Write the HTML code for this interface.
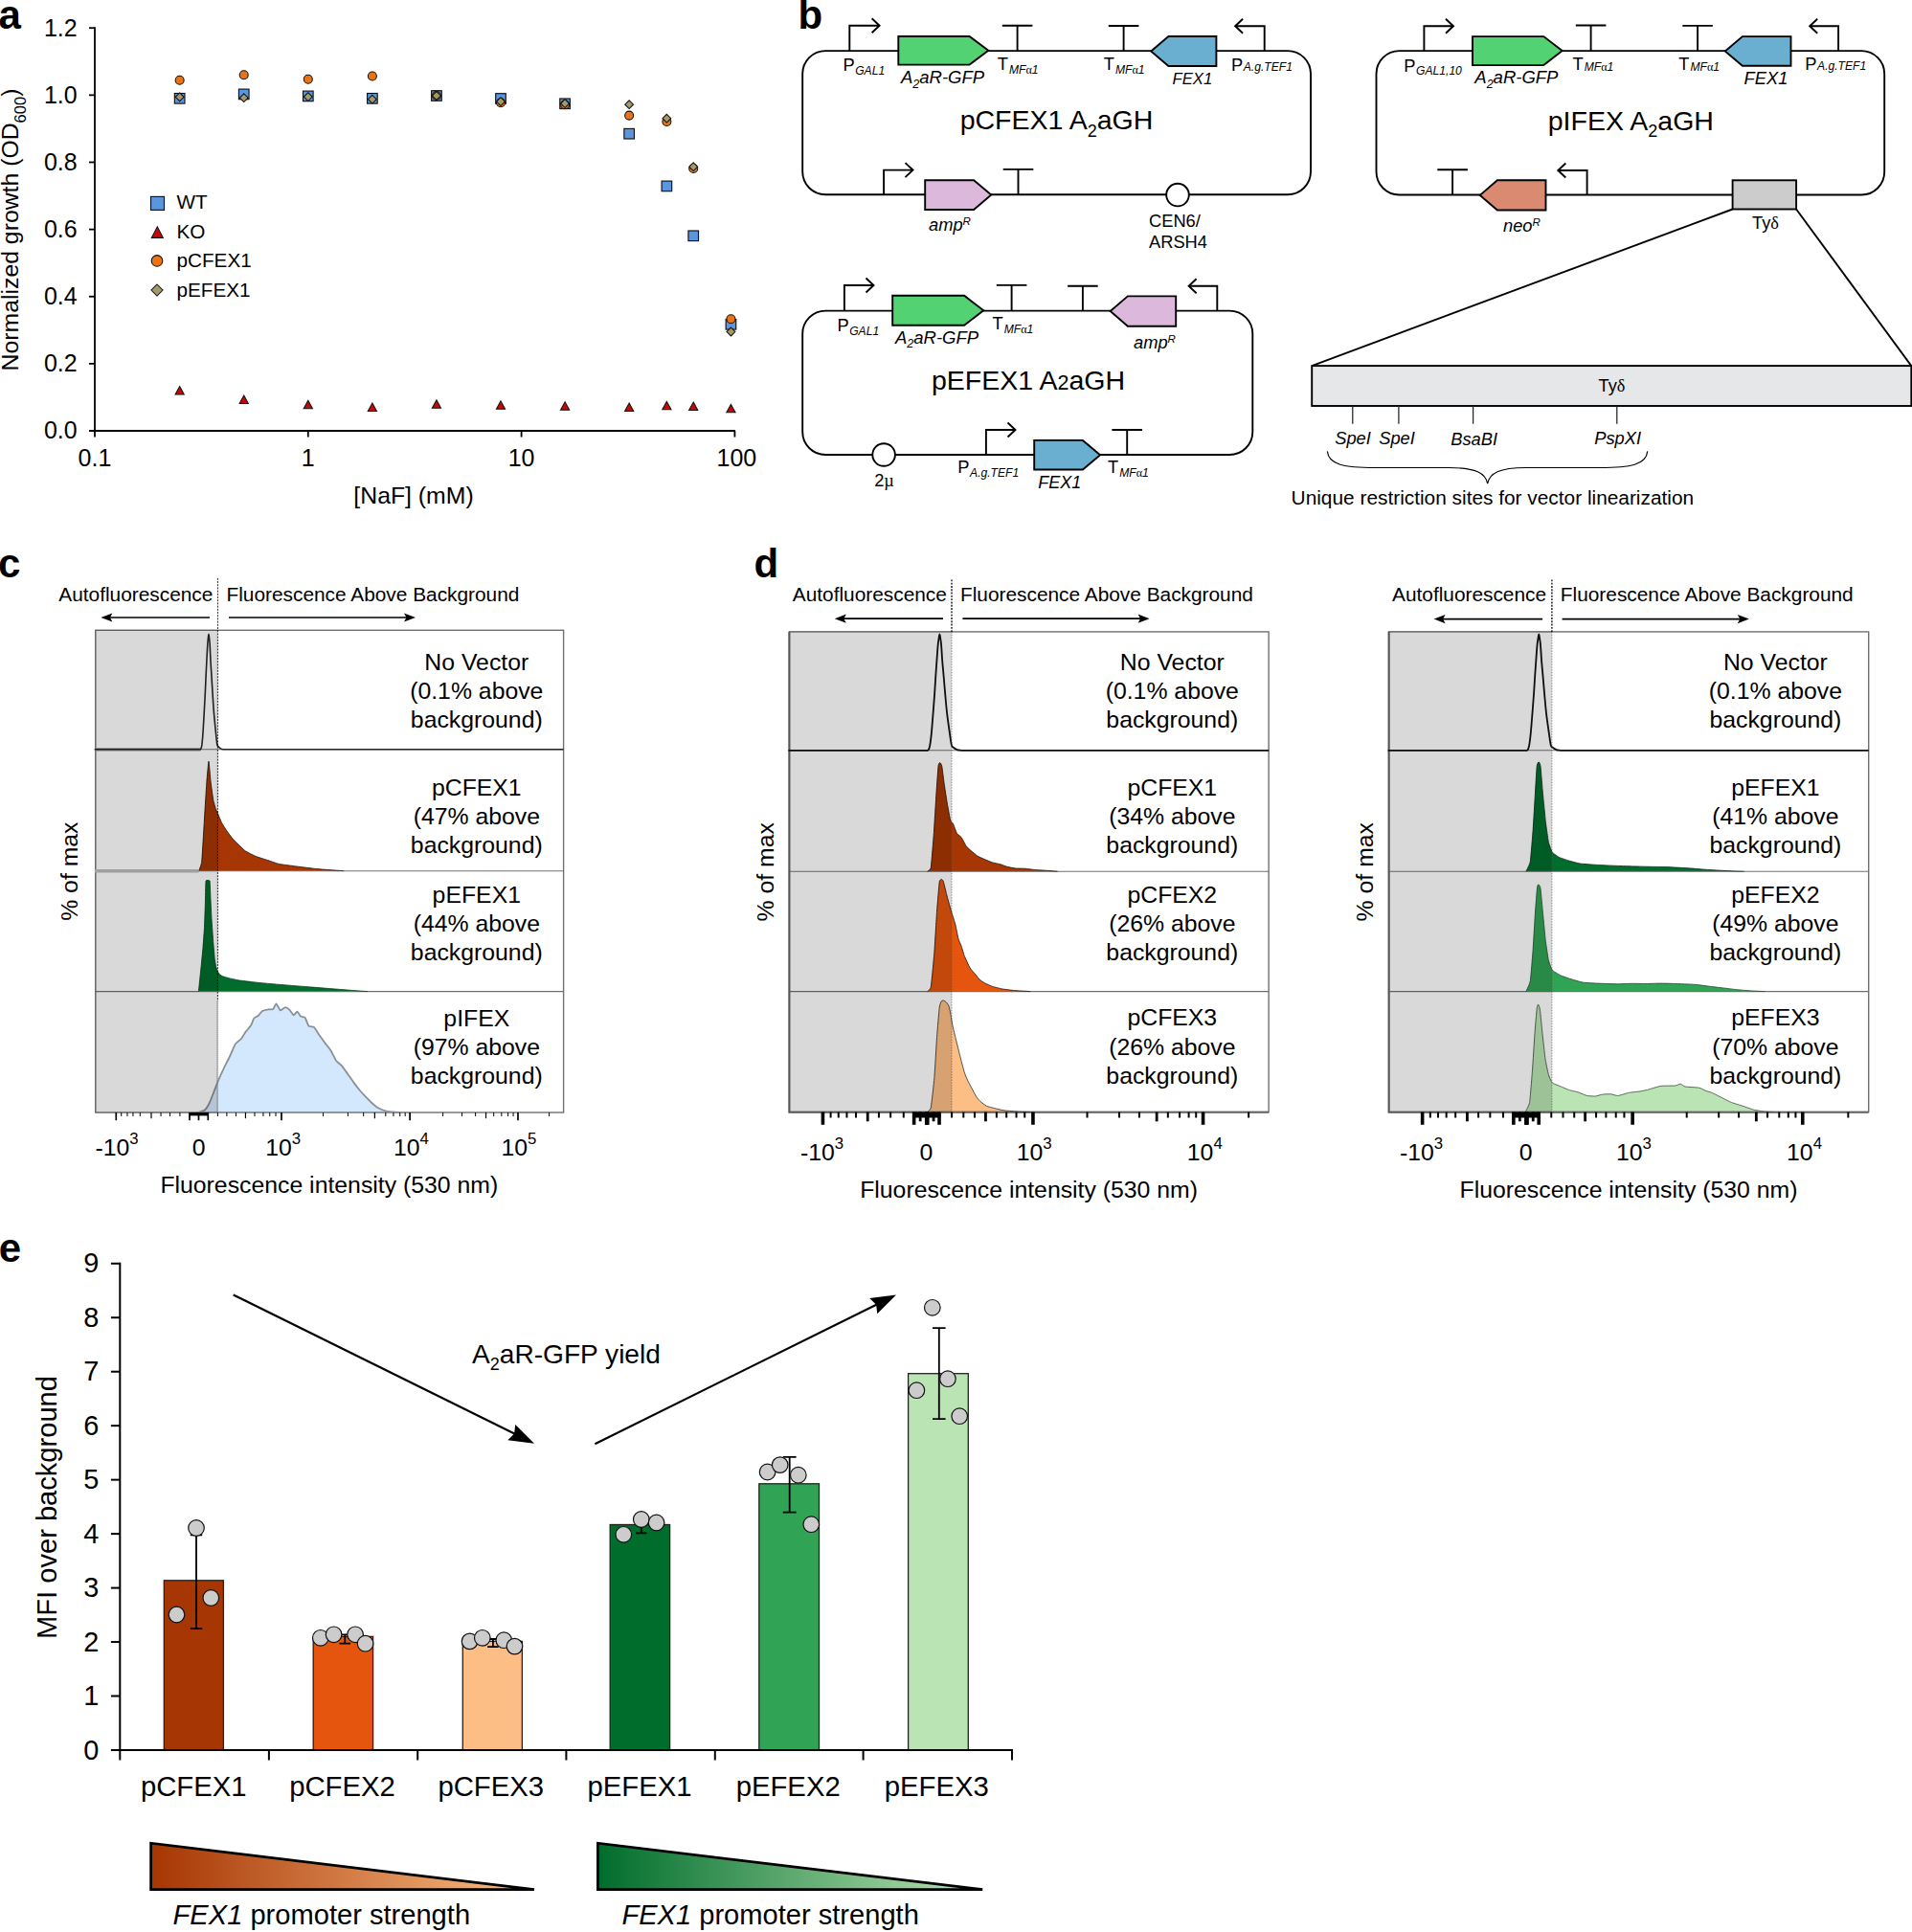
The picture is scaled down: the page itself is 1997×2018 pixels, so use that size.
<!DOCTYPE html>
<html lang="en"><head><meta charset="utf-8"><title>Figure</title>
<style>
html,body{margin:0;padding:0;background:#fff;}
body{width:1997px;height:2018px;overflow:hidden;}
svg{display:block;}
text{font-family:"Liberation Sans",sans-serif;fill:#000;}
.it{font-style:italic;}
.b{font-weight:bold;}
.sy{font-family:"Liberation Serif","DejaVu Serif",serif;font-style:normal;}
</style></head><body>
<svg width="1997" height="2018" viewBox="0 0 1997 2018">
<rect x="0" y="0" width="1997" height="2018" fill="#fff"/>
<g id="panel-a">
<text x="-1.6" y="30" font-size="42" text-anchor="start" class="b">a</text>
<line x1="99" y1="28.3" x2="99" y2="456.5" stroke="#000" stroke-width="1.8"/>
<line x1="93" y1="450" x2="767.9" y2="450" stroke="#000" stroke-width="1.8"/>
<text x="80.7" y="458.3" font-size="25" text-anchor="end">0.0</text>
<line x1="93" y1="379.87" x2="99" y2="379.87" stroke="#000" stroke-width="1.8"/>
<text x="80.7" y="388.17" font-size="25" text-anchor="end">0.2</text>
<line x1="93" y1="309.74" x2="99" y2="309.74" stroke="#000" stroke-width="1.8"/>
<text x="80.7" y="318.04" font-size="25" text-anchor="end">0.4</text>
<line x1="93" y1="239.61" x2="99" y2="239.61" stroke="#000" stroke-width="1.8"/>
<text x="80.7" y="247.91" font-size="25" text-anchor="end">0.6</text>
<line x1="93" y1="169.48" x2="99" y2="169.48" stroke="#000" stroke-width="1.8"/>
<text x="80.7" y="177.78" font-size="25" text-anchor="end">0.8</text>
<line x1="93" y1="99.35" x2="99" y2="99.35" stroke="#000" stroke-width="1.8"/>
<text x="80.7" y="107.65" font-size="25" text-anchor="end">1.0</text>
<line x1="93" y1="29.22" x2="99" y2="29.22" stroke="#000" stroke-width="1.8"/>
<text x="80.7" y="37.52" font-size="25" text-anchor="end">1.2</text>
<text x="99" y="487.3" font-size="25" text-anchor="middle">0.1</text>
<line x1="321.8" y1="450" x2="321.8" y2="456.5" stroke="#000" stroke-width="1.8"/>
<text x="321.8" y="487.3" font-size="25" text-anchor="middle">1</text>
<line x1="544.6" y1="450" x2="544.6" y2="456.5" stroke="#000" stroke-width="1.8"/>
<text x="544.6" y="487.3" font-size="25" text-anchor="middle">10</text>
<line x1="767.4" y1="450" x2="767.4" y2="456.5" stroke="#000" stroke-width="1.8"/>
<text x="769.4" y="487.3" font-size="25" text-anchor="middle">100</text>
<text x="432" y="526" font-size="24.8" text-anchor="middle">[NaF] (mM)</text>
<text x="18.5" y="240" font-size="24.8" text-anchor="middle" transform="rotate(-90 18.5 240)">Normalized growth (OD<tspan font-size="16.5" dy="8">600</tspan><tspan dy="-8">)</tspan></text>
<rect x="182.36" y="97.5" width="10.6" height="10.6" fill="#5b95dc" stroke="#111" stroke-width="1.15"/>
<rect x="249.43" y="93.1" width="10.6" height="10.6" fill="#5b95dc" stroke="#111" stroke-width="1.15"/>
<rect x="316.5" y="95.1" width="10.6" height="10.6" fill="#5b95dc" stroke="#111" stroke-width="1.15"/>
<rect x="383.57" y="97.5" width="10.6" height="10.6" fill="#5b95dc" stroke="#111" stroke-width="1.15"/>
<rect x="450.64" y="94.7" width="10.6" height="10.6" fill="#5b95dc" stroke="#111" stroke-width="1.15"/>
<rect x="517.71" y="97.7" width="10.6" height="10.6" fill="#5b95dc" stroke="#111" stroke-width="1.15"/>
<rect x="584.78" y="103" width="10.6" height="10.6" fill="#5b95dc" stroke="#111" stroke-width="1.15"/>
<rect x="651.85" y="134.4" width="10.6" height="10.6" fill="#5b95dc" stroke="#111" stroke-width="1.15"/>
<rect x="691.08" y="189.1" width="10.6" height="10.6" fill="#5b95dc" stroke="#111" stroke-width="1.15"/>
<rect x="718.92" y="241" width="10.6" height="10.6" fill="#5b95dc" stroke="#111" stroke-width="1.15"/>
<rect x="758.15" y="333.5" width="10.6" height="10.6" fill="#5b95dc" stroke="#111" stroke-width="1.15"/>
<polygon points="187.66,403.6 192.26,412 183.06,412" fill="#c40808" stroke="#111" stroke-width="1.05"/>
<polygon points="254.73,413 259.33,421.4 250.13,421.4" fill="#c40808" stroke="#111" stroke-width="1.05"/>
<polygon points="321.8,418.3 326.4,426.7 317.2,426.7" fill="#c40808" stroke="#111" stroke-width="1.05"/>
<polygon points="388.87,421.1 393.47,429.5 384.27,429.5" fill="#c40808" stroke="#111" stroke-width="1.05"/>
<polygon points="455.94,417.8 460.54,426.2 451.34,426.2" fill="#c40808" stroke="#111" stroke-width="1.05"/>
<polygon points="523.01,418.9 527.61,427.3 518.41,427.3" fill="#c40808" stroke="#111" stroke-width="1.05"/>
<polygon points="590.08,419.8 594.68,428.2 585.48,428.2" fill="#c40808" stroke="#111" stroke-width="1.05"/>
<polygon points="657.15,421.1 661.75,429.5 652.55,429.5" fill="#c40808" stroke="#111" stroke-width="1.05"/>
<polygon points="696.38,419.4 700.98,427.8 691.78,427.8" fill="#c40808" stroke="#111" stroke-width="1.05"/>
<polygon points="724.22,420 728.82,428.4 719.62,428.4" fill="#c40808" stroke="#111" stroke-width="1.05"/>
<polygon points="763.45,422.4 768.05,430.8 758.85,430.8" fill="#c40808" stroke="#111" stroke-width="1.05"/>
<circle cx="187.66" cy="83.7" r="4.5" fill="#ea7317" stroke="#111" stroke-width="1.05"/>
<circle cx="254.73" cy="78.2" r="4.5" fill="#ea7317" stroke="#111" stroke-width="1.05"/>
<circle cx="321.8" cy="82.8" r="4.5" fill="#ea7317" stroke="#111" stroke-width="1.05"/>
<circle cx="388.87" cy="79.5" r="4.5" fill="#ea7317" stroke="#111" stroke-width="1.05"/>
<circle cx="455.94" cy="100" r="4.5" fill="#ea7317" stroke="#111" stroke-width="1.05"/>
<circle cx="523.01" cy="107.2" r="4.5" fill="#ea7317" stroke="#111" stroke-width="1.05"/>
<circle cx="590.08" cy="109.2" r="4.5" fill="#ea7317" stroke="#111" stroke-width="1.05"/>
<circle cx="657.15" cy="120.6" r="4.5" fill="#ea7317" stroke="#111" stroke-width="1.05"/>
<circle cx="696.38" cy="127" r="4.5" fill="#ea7317" stroke="#111" stroke-width="1.05"/>
<circle cx="724.22" cy="176" r="4.5" fill="#ea7317" stroke="#111" stroke-width="1.05"/>
<circle cx="763.45" cy="333.3" r="4.5" fill="#ea7317" stroke="#111" stroke-width="1.05"/>
<polygon points="187.66,96.9 192.06,101.3 187.66,105.7 183.26,101.3" fill="#a39a6b" stroke="#111" stroke-width="1.05"/>
<polygon points="254.73,97.8 259.13,102.2 254.73,106.6 250.33,102.2" fill="#a39a6b" stroke="#111" stroke-width="1.05"/>
<polygon points="321.8,96.7 326.2,101.1 321.8,105.5 317.4,101.1" fill="#a39a6b" stroke="#111" stroke-width="1.05"/>
<polygon points="388.87,99.3 393.27,103.7 388.87,108.1 384.47,103.7" fill="#a39a6b" stroke="#111" stroke-width="1.05"/>
<polygon points="455.94,95.6 460.34,100 455.94,104.4 451.54,100" fill="#a39a6b" stroke="#111" stroke-width="1.05"/>
<polygon points="523.01,101.7 527.41,106.1 523.01,110.5 518.61,106.1" fill="#a39a6b" stroke="#111" stroke-width="1.05"/>
<polygon points="590.08,103.7 594.48,108.1 590.08,112.5 585.68,108.1" fill="#a39a6b" stroke="#111" stroke-width="1.05"/>
<polygon points="657.15,104.8 661.55,109.2 657.15,113.6 652.75,109.2" fill="#a39a6b" stroke="#111" stroke-width="1.05"/>
<polygon points="696.38,119.3 700.78,123.7 696.38,128.1 691.98,123.7" fill="#a39a6b" stroke="#111" stroke-width="1.05"/>
<polygon points="724.22,169.8 728.62,174.2 724.22,178.6 719.82,174.2" fill="#a39a6b" stroke="#111" stroke-width="1.05"/>
<polygon points="763.45,342.1 767.85,346.5 763.45,350.9 759.05,346.5" fill="#a39a6b" stroke="#111" stroke-width="1.05"/>
<rect x="157.5" y="205.4" width="14" height="14" fill="#5b95dc" stroke="#111" stroke-width="1.15"/>
<polygon points="164.3,236.85 170.3,248.35 158.3,248.35" fill="#c40808" stroke="#111" stroke-width="1.05"/>
<circle cx="164" cy="272.4" r="5.8" fill="#ea7317" stroke="#111" stroke-width="1.05"/>
<polygon points="164,297 170,303 164,309 158,303" fill="#a39a6b" stroke="#111" stroke-width="1.05"/>
<text x="184.5" y="218.3" font-size="20.7" text-anchor="start">WT</text>
<text x="184.5" y="248.7" font-size="20.7" text-anchor="start">KO</text>
<text x="184.5" y="279.1" font-size="20.7" text-anchor="start">pCFEX1</text>
<text x="184.5" y="309.5" font-size="20.7" text-anchor="start">pEFEX1</text>
</g>
<g id="panel-b">
<text x="833.6" y="30.4" font-size="42" text-anchor="start" class="b">b</text>
<rect x="838.2" y="53.1" width="530.8" height="150.2" rx="24" ry="24" fill="none" stroke="#000" stroke-width="1.9"/>
<path d="M887.3 53.1 V26.8 H918.6 M910.6 19.3 L918.6 26.8 L910.6 34.3" fill="none" stroke="#000" stroke-width="1.9" stroke-linejoin="miter"/>
<polygon points="938.3,38 1012.6,38 1032.3,52.8 1012.6,67.6 938.3,67.6" fill="#52d273" stroke="#000" stroke-width="1.9" stroke-linejoin="miter"/>
<path d="M1062.6 53.1 V26.7 M1046.8 26.7 H1078.4" fill="none" stroke="#000" stroke-width="1.9"/>
<path d="M1173.6 53.1 V27 M1157.8 27 H1189.4" fill="none" stroke="#000" stroke-width="1.9"/>
<polygon points="1270.4,38 1220.4,38 1202.2,53.5 1220.4,69 1270.4,69" fill="#6aaed0" stroke="#000" stroke-width="1.9" stroke-linejoin="miter"/>
<path d="M1320.7 53.1 V27.2 H1290.1 M1298.1 19.7 L1290.1 27.2 L1298.1 34.7" fill="none" stroke="#000" stroke-width="1.9" stroke-linejoin="miter"/>
<text x="880.4" y="74.4" font-size="18.3" text-anchor="start">P<tspan class="it" font-size="12.1" dx="0.6" dy="3.8">GAL1</tspan></text>
<text x="941" y="87.3" font-size="18.5" text-anchor="start" class="it">A<tspan font-size="12.5" dy="4.5">2</tspan><tspan dy="-4.5">aR-GFP</tspan></text>
<text x="1041.8" y="73" font-size="18.3" text-anchor="start">T<tspan class="it" font-size="12.1" dx="1" dy="3.5">MF</tspan><tspan class="sy" font-size="12.1" font-style="italic">α</tspan><tspan class="it" font-size="12.1">1</tspan></text>
<text x="1152.8" y="73" font-size="18.3" text-anchor="start">T<tspan class="it" font-size="12.1" dx="1" dy="3.5">MF</tspan><tspan class="sy" font-size="12.1" font-style="italic">α</tspan><tspan class="it" font-size="12.1">1</tspan></text>
<text x="1224.5" y="88" font-size="16.7" text-anchor="start" class="it">FEX1</text>
<text x="1286" y="73.7" font-size="18.3" text-anchor="start">P<tspan class="it" font-size="12.1" dx="0.6" dy="0">A.g.TEF1</tspan></text>
<text x="1103.5" y="135" font-size="28.5" text-anchor="middle">pCFEX1 A<tspan font-size="18" dy="7.5">2</tspan><tspan dy="-7.5">aGH</tspan></text>
<path d="M923.1 203.3 V177.6 H953.5 M945.5 170.1 L953.5 177.6 L945.5 185.1" fill="none" stroke="#000" stroke-width="1.9" stroke-linejoin="miter"/>
<polygon points="966.2,188.2 1017.1,188.2 1035.3,203.6 1017.1,219 966.2,219" fill="#dcb8dc" stroke="#000" stroke-width="1.9" stroke-linejoin="miter"/>
<path d="M1063.5 203.3 V176.9 M1047.7 176.9 H1079.3" fill="none" stroke="#000" stroke-width="1.9"/>
<circle cx="1230" cy="203.6" r="11.8" fill="#fff" stroke="#000" stroke-width="1.9"/>
<text x="970" y="241.1" font-size="18.3" text-anchor="start" class="it">amp<tspan font-size="11.5" dy="-6.5">R</tspan></text>
<text x="1200" y="236.6" font-size="18.3" text-anchor="start">CEN6/</text>
<text x="1200" y="259.3" font-size="18.3" text-anchor="start">ARSH4</text>
<rect x="1437.5" y="53.1" width="530.7" height="150.4" rx="24" ry="24" fill="none" stroke="#000" stroke-width="1.9"/>
<path d="M1487.4 53.1 V27.2 H1518 M1510 19.7 L1518 27.2 L1510 34.7" fill="none" stroke="#000" stroke-width="1.9" stroke-linejoin="miter"/>
<polygon points="1538,38.1 1612.3,38.1 1631.7,53.1 1612.3,68.1 1538,68.1" fill="#52d273" stroke="#000" stroke-width="1.9" stroke-linejoin="miter"/>
<path d="M1661.6 53.1 V26.5 M1645.8 26.5 H1677.4" fill="none" stroke="#000" stroke-width="1.9"/>
<path d="M1773.1 53.1 V26.9 M1757.3 26.9 H1788.9" fill="none" stroke="#000" stroke-width="1.9"/>
<polygon points="1870.5,38.1 1819.9,38.1 1801.8,53.4 1819.9,68.7 1870.5,68.7" fill="#6aaed0" stroke="#000" stroke-width="1.9" stroke-linejoin="miter"/>
<path d="M1920.1 53.1 V27.2 H1890.2 M1898.2 19.7 L1890.2 27.2 L1898.2 34.7" fill="none" stroke="#000" stroke-width="1.9" stroke-linejoin="miter"/>
<text x="1466.3" y="74.9" font-size="18.3" text-anchor="start">P<tspan class="it" font-size="12.1" dx="0.6" dy="3.5">GAL1,10</tspan></text>
<text x="1540.3" y="87.4" font-size="18.5" text-anchor="start" class="it">A<tspan font-size="12.5" dy="4.5">2</tspan><tspan dy="-4.5">aR-GFP</tspan></text>
<text x="1642.5" y="73.4" font-size="18.3" text-anchor="start">T<tspan class="it" font-size="12.1" dx="1" dy="0.5">MF</tspan><tspan class="sy" font-size="12.1" font-style="italic">α</tspan><tspan class="it" font-size="12.1">1</tspan></text>
<text x="1753.3" y="73.4" font-size="18.3" text-anchor="start">T<tspan class="it" font-size="12.1" dx="1" dy="0.5">MF</tspan><tspan class="sy" font-size="12.1" font-style="italic">α</tspan><tspan class="it" font-size="12.1">1</tspan></text>
<text x="1821.6" y="88" font-size="18.3" text-anchor="start" class="it">FEX1</text>
<text x="1885.3" y="73.4" font-size="18.3" text-anchor="start">P<tspan class="it" font-size="12.1" dx="0.6" dy="0">A.g.TEF1</tspan></text>
<text x="1703.3" y="135.8" font-size="28.5" text-anchor="middle">pIFEX A<tspan font-size="18" dy="7.5">2</tspan><tspan dy="-7.5">aGH</tspan></text>
<path d="M1517.1 203.5 V177.3 M1501.3 177.3 H1532.9" fill="none" stroke="#000" stroke-width="1.9"/>
<polygon points="1614.5,188.3 1563.9,188.3 1545.8,203.9 1563.9,219.5 1614.5,219.5" fill="#db8a72" stroke="#000" stroke-width="1.9" stroke-linejoin="miter"/>
<path d="M1657.6 203.5 V178 H1627.3 M1635.3 170.5 L1627.3 178 L1635.3 185.5" fill="none" stroke="#000" stroke-width="1.9" stroke-linejoin="miter"/>
<rect x="1809.6" y="188.3" width="66.5" height="30.2" fill="#cccccc" stroke="#000" stroke-width="1.9"/>
<text x="1570" y="242" font-size="18.3" text-anchor="start" class="it">neo<tspan font-size="11.5" dy="-6.5">R</tspan></text>
<text x="1844" y="238.8" font-size="18.3" text-anchor="middle">Ty<tspan class="sy">δ</tspan></text>
<line x1="1809.6" y1="218.5" x2="1370.2" y2="382.1" stroke="#000" stroke-width="1.9"/>
<line x1="1876.1" y1="218.5" x2="1996.3" y2="382.1" stroke="#000" stroke-width="1.9"/>
<rect x="1370.2" y="382.1" width="626.1" height="41.9" fill="#e6e7e8" stroke="#000" stroke-width="1.9"/>
<text x="1683.5" y="408.9" font-size="18.3" text-anchor="middle">Ty<tspan class="sy">δ</tspan></text>
<line x1="1412.8" y1="424" x2="1412.8" y2="442.8" stroke="#222" stroke-width="1.25"/>
<line x1="1460.9" y1="424" x2="1460.9" y2="442.8" stroke="#222" stroke-width="1.25"/>
<line x1="1538.6" y1="424" x2="1538.6" y2="442.8" stroke="#222" stroke-width="1.25"/>
<line x1="1688.8" y1="424" x2="1688.8" y2="442.8" stroke="#222" stroke-width="1.25"/>
<text x="1413" y="463.9" font-size="18.3" text-anchor="middle" class="it">SpeI</text>
<text x="1459" y="463.9" font-size="18.3" text-anchor="middle" class="it">SpeI</text>
<text x="1539.6" y="465.3" font-size="18.3" text-anchor="middle" class="it">BsaBI</text>
<text x="1689.6" y="463.9" font-size="18.3" text-anchor="middle" class="it">PspXI</text>
<path d="M1386.4 471.4 C1387.4 485.5 1404.4 488.5 1436.4 488.5 L1513.7 488.5 C1541.7 488.5 1551.7 494.5 1553.7 505.1 C1555.7 494.5 1565.7 488.5 1593.7 488.5 L1670.7 488.5 C1702.7 488.5 1719.7 485.5 1720.7 471.4" fill="none" stroke="#000" stroke-width="1.1"/>
<text x="1348.6" y="527.3" font-size="20.85" text-anchor="start">Unique restriction sites for vector linearization</text>
<rect x="838.2" y="324.6" width="470.1" height="150.4" rx="24" ry="24" fill="none" stroke="#000" stroke-width="1.9"/>
<path d="M881.9 324.6 V298 H912.5 M904.5 290.5 L912.5 298 L904.5 305.5" fill="none" stroke="#000" stroke-width="1.9" stroke-linejoin="miter"/>
<polygon points="932.2,308.8 1007.1,308.8 1027.2,324.3 1007.1,339.8 932.2,339.8" fill="#52d273" stroke="#000" stroke-width="1.9" stroke-linejoin="miter"/>
<path d="M1056.6 324.6 V297.9 M1040.8 297.9 H1072.4" fill="none" stroke="#000" stroke-width="1.9"/>
<path d="M1130.9 324.6 V298.8 M1115.1 298.8 H1146.7" fill="none" stroke="#000" stroke-width="1.9"/>
<polygon points="1228.2,309.4 1177.9,309.4 1159.7,325.05 1177.9,340.7 1228.2,340.7" fill="#dcb8dc" stroke="#000" stroke-width="1.9" stroke-linejoin="miter"/>
<path d="M1271.3 324.6 V298.8 H1241.6 M1249.6 291.3 L1241.6 298.8 L1249.6 306.3" fill="none" stroke="#000" stroke-width="1.9" stroke-linejoin="miter"/>
<text x="874.4" y="345.8" font-size="18.3" text-anchor="start">P<tspan class="it" font-size="12.1" dx="0.6" dy="4">GAL1</tspan></text>
<text x="935" y="358.9" font-size="18.5" text-anchor="start" class="it">A<tspan font-size="12.5" dy="4.5">2</tspan><tspan dy="-4.5">aR-GFP</tspan></text>
<text x="1036.5" y="344.3" font-size="18.3" text-anchor="start">T<tspan class="it" font-size="12.1" dx="1" dy="3.5">MF</tspan><tspan class="sy" font-size="12.1" font-style="italic">α</tspan><tspan class="it" font-size="12.1">1</tspan></text>
<text x="1184" y="364.2" font-size="18.3" text-anchor="start" class="it">amp<tspan font-size="11.5" dy="-6.5">R</tspan></text>
<text x="1074" y="407.1" font-size="28.5" text-anchor="middle">pEFEX1 A<tspan font-size="21.5">2</tspan>aGH</text>
<circle cx="923.1" cy="475" r="11.8" fill="#fff" stroke="#000" stroke-width="1.9"/>
<text x="923.5" y="508.1" font-size="18.3" text-anchor="middle">2<tspan class="sy">µ</tspan></text>
<path d="M1029.9 475 V449 H1060.5 M1052.5 441.5 L1060.5 449 L1052.5 456.5" fill="none" stroke="#000" stroke-width="1.9" stroke-linejoin="miter"/>
<polygon points="1080.2,459.9 1130.9,459.9 1149.1,475.2 1130.9,490.5 1080.2,490.5" fill="#6aaed0" stroke="#000" stroke-width="1.9" stroke-linejoin="miter"/>
<path d="M1177.2 475 V449 M1161.4 449 H1193" fill="none" stroke="#000" stroke-width="1.9"/>
<text x="1000.3" y="494" font-size="18.3" text-anchor="start">P<tspan class="it" font-size="12.1" dx="0.6" dy="4.4">A.g.TEF1</tspan></text>
<text x="1084.3" y="509.6" font-size="18" text-anchor="start" class="it">FEX1</text>
<text x="1157" y="494.4" font-size="18.3" text-anchor="start">T<tspan class="it" font-size="12.1" dx="1" dy="3.5">MF</tspan><tspan class="sy" font-size="12.1" font-style="italic">α</tspan><tspan class="it" font-size="12.1">1</tspan></text>
</g>
<g id="panel-c-label">
<text x="-2" y="603.3" font-size="42" text-anchor="start" class="b">c</text>
</g>
<g id="panel-c">
<rect x="99.8" y="658.3" width="488.8" height="503.7" fill="#fff"/>
<path d="M207.6 909.7 C207.81 909.07 210.32 903.62 210.7 900.2 C211.08 896.78 212.95 863.97 213.3 858.4 C213.65 852.83 215.59 820.81 215.9 816.6 C216.21 812.39 217.72 795.2 218 795.2 C218.28 795.2 219.79 813.92 220.1 816.6 C220.41 819.28 222.35 833.52 222.7 835.4 C223.05 837.28 224.99 843.86 225.3 844.8 C225.61 845.74 226.98 848.52 227.4 849.5 C227.82 850.48 230.97 858.28 231.6 859.5 C232.23 860.72 236.03 866.69 236.8 867.8 C237.57 868.91 242.26 875.22 243.1 876.2 C243.94 877.18 248.53 881.66 249.4 882.5 C250.27 883.34 255.01 888 256.2 888.8 C257.39 889.6 265.7 893.87 267.2 894.5 C268.7 895.13 277.1 897.67 278.7 898.2 C280.3 898.73 289.11 901.95 291.2 902.4 C293.29 902.85 307.45 904.65 310.1 905 C312.75 905.35 328.56 907.35 331 907.6 C333.44 907.85 344.82 908.66 346.7 908.8 C348.58 908.94 358.37 909.64 359.2 909.7 Z" fill="#a63603" stroke="none" stroke-width="0"/>
<path d="M207.4 1035.6 C207.51 1034.52 210.02 1010.44 210.2 1008.6 C210.38 1006.76 211.87 991.2 212 989.6 C212.13 988 213.4 970.44 213.5 968.6 C213.6 966.76 214.34 945.54 214.4 943.6 C214.46 941.66 214.81 921.04 215 920.1 C215.19 919.16 218.9 919.32 219.1 920.1 C219.3 920.88 219.92 938 220 939.6 C220.08 941.2 220.89 958.18 221 960 C221.11 961.82 222.67 983.35 222.8 985 C222.93 986.65 224.09 1000.22 224.2 1001.2 C224.31 1002.18 225.49 1009.08 225.6 1009.6 C225.71 1010.12 226.84 1013.87 227 1014.2 C227.16 1014.53 229.28 1017.58 229.5 1017.8 C229.72 1018.02 232.22 1019.64 232.6 1019.8 C232.98 1019.96 238.3 1021.53 239 1021.7 C239.7 1021.87 248.76 1023.81 250 1024 C251.24 1024.19 268.4 1026.23 270 1026.4 C271.6 1026.57 287.76 1028.01 290 1028.2 C292.24 1028.39 323.12 1030.87 326 1031.1 C328.88 1031.33 359.68 1033.82 362 1034 C364.32 1034.18 383.12 1035.54 384 1035.6 Z" fill="#006d2c" stroke="none" stroke-width="0"/>
<path d="M205 1162 C205.18 1161.99 206.85 1161.98 207.5 1161.8 C208.15 1161.62 212.97 1160.22 213.8 1159.5 C214.63 1158.78 218.07 1153.47 218.8 1152 C219.53 1150.53 223.11 1141.15 223.8 1139.4 C224.49 1137.65 227.46 1129.85 228.2 1128.1 C228.94 1126.35 233.02 1117.44 233.9 1115.6 C234.78 1113.76 239.33 1104.84 240.2 1103 C241.07 1101.16 244.93 1091.83 245.8 1090.5 C246.67 1089.17 251.32 1085.72 252.1 1084.8 C252.88 1083.88 255.77 1078.91 256.5 1077.9 C257.23 1076.89 261.45 1072.06 262.1 1071 C262.75 1069.94 264.74 1064.23 265.3 1063.5 C265.86 1062.77 269.06 1061.55 269.7 1061 C270.34 1060.45 273.22 1056.49 274 1056 C274.78 1055.51 279.47 1054.44 280.3 1054.3 C281.13 1054.16 284.7 1054.53 285.3 1054.1 C285.9 1053.67 287.94 1048.31 288.5 1048.4 C289.06 1048.49 292.21 1055.02 292.9 1055.3 C293.59 1055.58 297.21 1052.24 297.9 1052.2 C298.59 1052.16 301.65 1054.11 302.3 1054.7 C302.95 1055.29 306.11 1060.16 306.7 1060.3 C307.29 1060.44 309.85 1056.5 310.4 1056.6 C310.95 1056.7 313.6 1061.14 314.2 1061.6 C314.8 1062.06 318 1062.17 318.6 1062.9 C319.2 1063.63 321.71 1070.87 322.4 1071.6 C323.09 1072.33 327.22 1072.25 328 1072.9 C328.78 1073.55 332.17 1079.2 333 1080.4 C333.83 1081.6 338.38 1087.95 339.3 1089.2 C340.22 1090.45 344.73 1096.02 345.6 1097.4 C346.47 1098.78 350.37 1106.85 351.2 1108 C352.03 1109.15 356.02 1112.09 356.9 1113.1 C357.78 1114.11 362.28 1120.52 363.2 1121.8 C364.12 1123.08 368.48 1129.35 369.4 1130.6 C370.32 1131.85 374.78 1137.69 375.7 1138.8 C376.62 1139.91 381.08 1144.73 382 1145.7 C382.92 1146.67 387.38 1151.17 388.3 1152 C389.22 1152.83 393.4 1156.38 394.5 1157 C395.6 1157.62 401.91 1160.15 403.3 1160.5 C404.69 1160.85 412.2 1161.64 413.4 1161.75 C414.6 1161.86 419.15 1161.98 419.6 1162 Z" fill="#d3e8fc" stroke="none" stroke-width="0"/>
<line x1="99.8" y1="782.8" x2="588.6" y2="782.8" stroke="#707070" stroke-width="1.1"/>
<line x1="99.8" y1="909.7" x2="588.6" y2="909.7" stroke="#707070" stroke-width="1.1"/>
<line x1="99.8" y1="1035.6" x2="588.6" y2="1035.6" stroke="#707070" stroke-width="1.1"/>
<rect x="99.8" y="658.3" width="488.8" height="503.7" fill="none" stroke="#707070" stroke-width="1.4"/>
<line x1="98.8" y1="782.8" x2="209.39" y2="782.8" stroke="#969696" stroke-width="3.3"/>
<path d="M98.8 782.8 L208.89 782.8 L209.39 782.8 C209.52 782.56 209.89 782.32 210.16 781.35 C210.43 780.39 210.69 779.78 211 777.01 C211.31 774.24 211.7 769.78 212.05 764.71 C212.4 759.64 212.72 753.55 213.1 746.62 C213.48 739.69 214.02 729.94 214.36 723.1 C214.7 716.27 214.87 711.14 215.13 705.62 C215.39 700.09 215.63 695.3 215.9 689.94 C216.17 684.57 216.52 677.34 216.78 673.42 C217.03 669.5 217.24 668.29 217.44 666.42 C217.64 664.55 217.81 662.2 218 662.2 C218.19 662.2 218.36 664.55 218.56 666.42 C218.76 668.29 218.96 669.5 219.19 673.42 C219.42 677.34 219.67 684.57 219.96 689.94 C220.25 695.3 220.6 700.09 220.94 705.62 C221.28 711.14 221.58 716.67 221.99 723.1 C222.4 729.53 222.83 737.27 223.39 744.21 C223.95 751.14 224.8 759.24 225.35 764.71 C225.9 770.18 226.27 774.54 226.68 777.01 C227.09 779.48 227.12 778.7 227.8 779.54 C228.48 780.39 229.76 781.53 230.74 782.08 C231.72 782.62 233.19 782.68 233.68 782.8 L588.6 782.8" fill="none" stroke="#262626" stroke-width="1.6" stroke-linejoin="round"/>
<path d="M207.6 909.7 C207.81 909.07 210.32 903.62 210.7 900.2 C211.08 896.78 212.95 863.97 213.3 858.4 C213.65 852.83 215.59 820.81 215.9 816.6 C216.21 812.39 217.72 795.2 218 795.2 C218.28 795.2 219.79 813.92 220.1 816.6 C220.41 819.28 222.35 833.52 222.7 835.4 C223.05 837.28 224.99 843.86 225.3 844.8 C225.61 845.74 226.98 848.52 227.4 849.5 C227.82 850.48 230.97 858.28 231.6 859.5 C232.23 860.72 236.03 866.69 236.8 867.8 C237.57 868.91 242.26 875.22 243.1 876.2 C243.94 877.18 248.53 881.66 249.4 882.5 C250.27 883.34 255.01 888 256.2 888.8 C257.39 889.6 265.7 893.87 267.2 894.5 C268.7 895.13 277.1 897.67 278.7 898.2 C280.3 898.73 289.11 901.95 291.2 902.4 C293.29 902.85 307.45 904.65 310.1 905 C312.75 905.35 328.56 907.35 331 907.6 C333.44 907.85 344.82 908.66 346.7 908.8 C348.58 908.94 358.37 909.64 359.2 909.7" fill="none" stroke="#1a0d05" stroke-width="0.8" stroke-linejoin="round"/>
<line x1="98.8" y1="909.7" x2="207.6" y2="909.7" stroke="#bcbcbc" stroke-width="3.6"/>
<path d="M207.4 1035.6 C207.51 1034.52 210.02 1010.44 210.2 1008.6 C210.38 1006.76 211.87 991.2 212 989.6 C212.13 988 213.4 970.44 213.5 968.6 C213.6 966.76 214.34 945.54 214.4 943.6 C214.46 941.66 214.81 921.04 215 920.1 C215.19 919.16 218.9 919.32 219.1 920.1 C219.3 920.88 219.92 938 220 939.6 C220.08 941.2 220.89 958.18 221 960 C221.11 961.82 222.67 983.35 222.8 985 C222.93 986.65 224.09 1000.22 224.2 1001.2 C224.31 1002.18 225.49 1009.08 225.6 1009.6 C225.71 1010.12 226.84 1013.87 227 1014.2 C227.16 1014.53 229.28 1017.58 229.5 1017.8 C229.72 1018.02 232.22 1019.64 232.6 1019.8 C232.98 1019.96 238.3 1021.53 239 1021.7 C239.7 1021.87 248.76 1023.81 250 1024 C251.24 1024.19 268.4 1026.23 270 1026.4 C271.6 1026.57 287.76 1028.01 290 1028.2 C292.24 1028.39 323.12 1030.87 326 1031.1 C328.88 1031.33 359.68 1033.82 362 1034 C364.32 1034.18 383.12 1035.54 384 1035.6" fill="none" stroke="#0a3a1c" stroke-width="0.8" stroke-linejoin="round"/>
<path d="M205 1162 C205.18 1161.99 206.85 1161.98 207.5 1161.8 C208.15 1161.62 212.97 1160.22 213.8 1159.5 C214.63 1158.78 218.07 1153.47 218.8 1152 C219.53 1150.53 223.11 1141.15 223.8 1139.4 C224.49 1137.65 227.46 1129.85 228.2 1128.1 C228.94 1126.35 233.02 1117.44 233.9 1115.6 C234.78 1113.76 239.33 1104.84 240.2 1103 C241.07 1101.16 244.93 1091.83 245.8 1090.5 C246.67 1089.17 251.32 1085.72 252.1 1084.8 C252.88 1083.88 255.77 1078.91 256.5 1077.9 C257.23 1076.89 261.45 1072.06 262.1 1071 C262.75 1069.94 264.74 1064.23 265.3 1063.5 C265.86 1062.77 269.06 1061.55 269.7 1061 C270.34 1060.45 273.22 1056.49 274 1056 C274.78 1055.51 279.47 1054.44 280.3 1054.3 C281.13 1054.16 284.7 1054.53 285.3 1054.1 C285.9 1053.67 287.94 1048.31 288.5 1048.4 C289.06 1048.49 292.21 1055.02 292.9 1055.3 C293.59 1055.58 297.21 1052.24 297.9 1052.2 C298.59 1052.16 301.65 1054.11 302.3 1054.7 C302.95 1055.29 306.11 1060.16 306.7 1060.3 C307.29 1060.44 309.85 1056.5 310.4 1056.6 C310.95 1056.7 313.6 1061.14 314.2 1061.6 C314.8 1062.06 318 1062.17 318.6 1062.9 C319.2 1063.63 321.71 1070.87 322.4 1071.6 C323.09 1072.33 327.22 1072.25 328 1072.9 C328.78 1073.55 332.17 1079.2 333 1080.4 C333.83 1081.6 338.38 1087.95 339.3 1089.2 C340.22 1090.45 344.73 1096.02 345.6 1097.4 C346.47 1098.78 350.37 1106.85 351.2 1108 C352.03 1109.15 356.02 1112.09 356.9 1113.1 C357.78 1114.11 362.28 1120.52 363.2 1121.8 C364.12 1123.08 368.48 1129.35 369.4 1130.6 C370.32 1131.85 374.78 1137.69 375.7 1138.8 C376.62 1139.91 381.08 1144.73 382 1145.7 C382.92 1146.67 387.38 1151.17 388.3 1152 C389.22 1152.83 393.4 1156.38 394.5 1157 C395.6 1157.62 401.91 1160.15 403.3 1160.5 C404.69 1160.85 412.2 1161.64 413.4 1161.75 C414.6 1161.86 419.15 1161.98 419.6 1162" fill="none" stroke="#8a9098" stroke-width="1.8" stroke-linejoin="round"/>
<rect x="99.1" y="657.6" width="128.3" height="505.1" fill="#000" fill-opacity="0.15"/>
<line x1="227.4" y1="603.8" x2="227.4" y2="1045.6" stroke="#000" stroke-width="0.85" stroke-dasharray="2 1.2"/>
<line x1="227.1" y1="1045.6" x2="227.1" y2="1162" stroke="#7f8286" stroke-width="1.9" stroke-dasharray="1.1 0.9" stroke-opacity="0.8"/>
<text x="61.3" y="627.5" font-size="20.85" text-anchor="start">Autofluorescence</text>
<text x="236.5" y="627.5" font-size="20.85" text-anchor="start">Fluorescence Above Background</text>
<line x1="219" y1="645" x2="111.4" y2="645" stroke="#000" stroke-width="1.7"/>
<polygon points="105.4,645 117.4,640.4 114.9,645 117.4,649.6" fill="#000"/>
<line x1="239" y1="645" x2="428" y2="645" stroke="#000" stroke-width="1.7"/>
<polygon points="434,645 422,640.4 424.5,645 422,649.6" fill="#000"/>
<text x="497.8" y="699.9" font-size="24.8" text-anchor="middle">No Vector</text>
<text x="497.8" y="730" font-size="24.8" text-anchor="middle">(0.1% above</text>
<text x="497.8" y="760.1" font-size="24.8" text-anchor="middle">background)</text>
<text x="497.8" y="830.6" font-size="24.8" text-anchor="middle">pCFEX1</text>
<text x="497.8" y="860.7" font-size="24.8" text-anchor="middle">(47% above</text>
<text x="497.8" y="890.8" font-size="24.8" text-anchor="middle">background)</text>
<text x="497.8" y="942.7" font-size="24.8" text-anchor="middle">pEFEX1</text>
<text x="497.8" y="972.8" font-size="24.8" text-anchor="middle">(44% above</text>
<text x="497.8" y="1002.9" font-size="24.8" text-anchor="middle">background)</text>
<text x="497.8" y="1071.5" font-size="24.8" text-anchor="middle">pIFEX</text>
<text x="497.8" y="1101.6" font-size="24.8" text-anchor="middle">(97% above</text>
<text x="497.8" y="1131.7" font-size="24.8" text-anchor="middle">background)</text>
<line x1="121.28" y1="1162" x2="121.28" y2="1170.2" stroke="#000" stroke-width="1.7"/>
<line x1="197.98" y1="1162" x2="197.98" y2="1170.2" stroke="#000" stroke-width="1.7"/>
<line x1="207.5" y1="1162" x2="207.5" y2="1170.2" stroke="#000" stroke-width="1.7"/>
<line x1="217.3" y1="1162" x2="217.3" y2="1170.2" stroke="#000" stroke-width="1.7"/>
<line x1="294" y1="1162" x2="294" y2="1170.2" stroke="#000" stroke-width="1.7"/>
<line x1="428.1" y1="1162" x2="428.1" y2="1170.2" stroke="#000" stroke-width="1.7"/>
<line x1="540.98" y1="1162" x2="540.98" y2="1170.2" stroke="#000" stroke-width="1.7"/>
<line x1="158" y1="1162" x2="158" y2="1168.2" stroke="#000" stroke-width="1.2"/>
<line x1="256.46" y1="1162" x2="256.46" y2="1168.2" stroke="#000" stroke-width="1.2"/>
<line x1="391.38" y1="1162" x2="391.38" y2="1168.2" stroke="#000" stroke-width="1.2"/>
<line x1="507.52" y1="1162" x2="507.52" y2="1168.2" stroke="#000" stroke-width="1.2"/>
<line x1="126.72" y1="1162" x2="126.72" y2="1166" stroke="#000" stroke-width="1"/>
<line x1="132.98" y1="1162" x2="132.98" y2="1166" stroke="#000" stroke-width="1"/>
<line x1="138.96" y1="1162" x2="138.96" y2="1166" stroke="#000" stroke-width="1"/>
<line x1="146.3" y1="1162" x2="146.3" y2="1166" stroke="#000" stroke-width="1"/>
<line x1="168.06" y1="1162" x2="168.06" y2="1166" stroke="#000" stroke-width="1"/>
<line x1="177.58" y1="1162" x2="177.58" y2="1166" stroke="#000" stroke-width="1"/>
<line x1="187.92" y1="1162" x2="187.92" y2="1166" stroke="#000" stroke-width="1"/>
<line x1="227.36" y1="1162" x2="227.36" y2="1166" stroke="#000" stroke-width="1"/>
<line x1="236.88" y1="1162" x2="236.88" y2="1166" stroke="#000" stroke-width="1"/>
<line x1="246.4" y1="1162" x2="246.4" y2="1166" stroke="#000" stroke-width="1"/>
<line x1="265.98" y1="1162" x2="265.98" y2="1166" stroke="#000" stroke-width="1"/>
<line x1="274.96" y1="1162" x2="274.96" y2="1166" stroke="#000" stroke-width="1"/>
<line x1="281.76" y1="1162" x2="281.76" y2="1166" stroke="#000" stroke-width="1"/>
<line x1="288.02" y1="1162" x2="288.02" y2="1166" stroke="#000" stroke-width="1"/>
<line x1="337.52" y1="1162" x2="337.52" y2="1166" stroke="#000" stroke-width="1"/>
<line x1="363.36" y1="1162" x2="363.36" y2="1166" stroke="#000" stroke-width="1"/>
<line x1="379.68" y1="1162" x2="379.68" y2="1166" stroke="#000" stroke-width="1"/>
<line x1="402.8" y1="1162" x2="402.8" y2="1166" stroke="#000" stroke-width="1"/>
<line x1="410.96" y1="1162" x2="410.96" y2="1166" stroke="#000" stroke-width="1"/>
<line x1="417.76" y1="1162" x2="417.76" y2="1166" stroke="#000" stroke-width="1"/>
<line x1="423.2" y1="1162" x2="423.2" y2="1166" stroke="#000" stroke-width="1"/>
<line x1="462.64" y1="1162" x2="462.64" y2="1166" stroke="#000" stroke-width="1"/>
<line x1="482.5" y1="1162" x2="482.5" y2="1166" stroke="#000" stroke-width="1"/>
<line x1="496.64" y1="1162" x2="496.64" y2="1166" stroke="#000" stroke-width="1"/>
<line x1="515.68" y1="1162" x2="515.68" y2="1166" stroke="#000" stroke-width="1"/>
<line x1="523.84" y1="1162" x2="523.84" y2="1166" stroke="#000" stroke-width="1"/>
<line x1="530.64" y1="1162" x2="530.64" y2="1166" stroke="#000" stroke-width="1"/>
<line x1="536.08" y1="1162" x2="536.08" y2="1166" stroke="#000" stroke-width="1"/>
<line x1="573.62" y1="1162" x2="573.62" y2="1166" stroke="#000" stroke-width="1"/>
<rect x="197.71" y="1162" width="20.13" height="3.4" fill="#000"/>
<text x="122" y="1207" font-size="24.8" text-anchor="middle">-10<tspan font-size="16.8" dy="-11.6">3</tspan></text>
<text x="207.6" y="1207" font-size="24.8" text-anchor="middle">0</text>
<text x="295.6" y="1207" font-size="24.8" text-anchor="middle">10<tspan font-size="16.8" dy="-11.6">3</tspan></text>
<text x="429.4" y="1207" font-size="24.8" text-anchor="middle">10<tspan font-size="16.8" dy="-11.6">4</tspan></text>
<text x="541.9" y="1207" font-size="24.8" text-anchor="middle">10<tspan font-size="16.8" dy="-11.6">5</tspan></text>
<text x="343.8" y="1246.2" font-size="24.8" text-anchor="middle">Fluorescence intensity (530 nm)</text>
<text x="81.2" y="910.15" font-size="24.8" text-anchor="middle" transform="rotate(-90 81.2 910.15)">% of max</text>
</g>
<g id="panel-d-label">
<text x="787.6" y="603.1" font-size="42" text-anchor="start" class="b">d</text>
</g>
<g id="panel-d-left">
<rect x="824.4" y="659.9" width="500.7" height="501.6" fill="#fff"/>
<path d="M968.6 910.3 C968.87 909.99 971.8 909.09 972.3 906.1 C972.8 903.11 974.98 875.25 975.4 869.5 C975.82 863.75 977.66 832.84 978 827.7 C978.34 822.56 979.81 801.67 980.1 799.4 C980.39 797.13 981.73 796.62 982 796.7 C982.27 796.78 983.48 798.77 983.8 800.5 C984.12 802.23 985.98 817.39 986.4 820.3 C986.82 823.21 989.04 837.51 989.5 840.2 C989.96 842.89 992.27 855.54 992.7 857 C993.13 858.46 994.8 859.1 995.3 860.1 C995.8 861.1 998.85 869.53 999.5 870.6 C1000.15 871.67 1003.47 873.71 1004.2 874.7 C1004.93 875.69 1008.64 883.06 1009.4 884.1 C1010.16 885.14 1013.76 888.17 1014.6 888.9 C1015.44 889.63 1019.9 893.47 1020.9 894.1 C1021.9 894.73 1027.05 897 1028.2 897.5 C1029.35 898 1035.37 900.51 1036.6 900.9 C1037.83 901.29 1043.93 902.49 1045 902.8 C1046.07 903.11 1050.06 904.79 1051.2 905.1 C1052.34 905.41 1059.21 906.85 1060.6 907 C1061.99 907.15 1068.64 907.1 1070.1 907.2 C1071.56 907.3 1078.59 908.23 1080.5 908.4 C1082.41 908.57 1094.43 909.36 1096.2 909.5 C1097.97 909.64 1103.98 910.24 1104.6 910.3 Z" fill="#a63603" stroke="none" stroke-width="0"/>
<path d="M968.6 1035.6 C968.87 1035.26 971.76 1033.93 972.3 1030.9 C972.84 1027.87 975.45 1000.06 975.9 994.3 C976.35 988.54 978.11 957.77 978.5 952.4 C978.89 947.03 980.83 923.59 981.2 921.1 C981.57 918.61 983.2 918.44 983.5 918.4 C983.8 918.36 984.93 919.49 985.3 920.6 C985.67 921.71 988.04 931.8 988.5 933.6 C988.96 935.4 991.15 943.49 991.6 945.1 C992.05 946.71 994.24 954.07 994.7 955.6 C995.16 957.13 997.44 964.16 997.9 966 C998.36 967.84 1000.54 979.05 1001 980.7 C1001.46 982.35 1003.74 987.19 1004.2 988.5 C1004.66 989.81 1006.65 996.85 1007.3 998.5 C1007.95 1000.15 1012.26 1009.58 1013.1 1011 C1013.94 1012.42 1018.07 1016.92 1018.8 1017.8 C1019.53 1018.68 1022.31 1022.35 1023 1023 C1023.69 1023.65 1027.2 1026.16 1028.2 1026.7 C1029.2 1027.24 1035.22 1029.94 1036.6 1030.4 C1037.98 1030.86 1045.31 1032.69 1047 1033 C1048.69 1033.31 1057.45 1034.41 1059.6 1034.6 C1061.75 1034.79 1075.08 1035.53 1076.3 1035.6 Z" fill="#e6550d" stroke="none" stroke-width="0"/>
<path d="M968.6 1161.5 C968.91 1161.11 971.69 1159.81 972.3 1156.8 C972.91 1153.79 975.38 1131.5 975.9 1125.4 C976.42 1119.3 978.06 1089.7 978.5 1083.6 C978.94 1077.5 980.81 1055.34 981.2 1052.2 C981.59 1049.06 982.86 1046.51 983.2 1045.9 C983.54 1045.29 984.86 1044.81 985.3 1044.9 C985.74 1044.99 988.02 1046.48 988.5 1047 C988.98 1047.52 990.71 1049.97 991.1 1051.1 C991.49 1052.23 992.9 1059.02 993.2 1060.6 C993.5 1062.17 994.31 1068.08 994.7 1070 C995.09 1071.92 997.38 1081.42 997.9 1083.6 C998.42 1085.77 1000.48 1094.01 1001 1096.1 C1001.52 1098.19 1003.68 1106.69 1004.2 1108.7 C1004.73 1110.71 1006.78 1118.59 1007.3 1120.2 C1007.82 1121.81 1009.75 1126.61 1010.4 1128 C1011.05 1129.39 1014.31 1135.42 1015.1 1136.9 C1015.89 1138.38 1019.16 1144.67 1019.9 1145.8 C1020.64 1146.93 1023.13 1149.72 1024 1150.5 C1024.87 1151.28 1029.08 1154.61 1030.3 1155.2 C1031.52 1155.79 1037.13 1157.21 1038.7 1157.6 C1040.27 1157.99 1046.92 1159.6 1049.1 1159.9 C1051.27 1160.2 1062.53 1161.07 1064.8 1161.2 C1067.07 1161.33 1075.34 1161.47 1076.3 1161.5 Z" fill="#fdbe85" stroke="none" stroke-width="0"/>
<line x1="824.4" y1="783.8" x2="1325.1" y2="783.8" stroke="#707070" stroke-width="1.1"/>
<line x1="824.4" y1="910.3" x2="1325.1" y2="910.3" stroke="#707070" stroke-width="1.1"/>
<line x1="824.4" y1="1035.6" x2="1325.1" y2="1035.6" stroke="#707070" stroke-width="1.1"/>
<rect x="824.4" y="659.9" width="500.7" height="501.6" fill="none" stroke="#707070" stroke-width="1.4"/>
<path d="M824.4 659.9 V1161.7 H1325.1" fill="none" stroke="#646464" stroke-width="2"/>
<path d="M823.4 783.8 L968.6 783.8 L969.1 783.8 C969.28 783.56 969.82 783.31 970.2 782.34 C970.58 781.37 970.95 780.76 971.4 777.97 C971.85 775.17 972.4 770.68 972.9 765.57 C973.4 760.47 973.85 754.34 974.4 747.35 C974.95 740.36 975.72 730.54 976.2 723.66 C976.68 716.77 976.93 711.61 977.3 706.04 C977.67 700.47 978.01 695.65 978.4 690.24 C978.79 684.84 979.28 677.55 979.65 673.6 C980.02 669.65 980.31 668.44 980.6 666.55 C980.89 664.67 981.13 662.3 981.4 662.3 C981.67 662.3 981.92 664.67 982.2 666.55 C982.48 668.44 982.77 669.65 983.1 673.6 C983.43 677.55 983.78 684.84 984.2 690.24 C984.62 695.65 985.12 700.47 985.6 706.04 C986.08 711.61 986.52 717.18 987.1 723.66 C987.68 730.14 988.3 737.93 989.1 744.92 C989.9 751.91 991.12 760.07 991.9 765.57 C992.68 771.08 993.22 775.48 993.8 777.97 C994.38 780.46 994.43 779.67 995.4 780.52 C996.37 781.37 998.2 782.52 999.6 783.07 C1001 783.62 1003.1 783.68 1003.8 783.8 L1325.1 783.8" fill="none" stroke="#111" stroke-width="1.8" stroke-linejoin="round"/>
<path d="M968.6 910.3 C968.87 909.99 971.8 909.09 972.3 906.1 C972.8 903.11 974.98 875.25 975.4 869.5 C975.82 863.75 977.66 832.84 978 827.7 C978.34 822.56 979.81 801.67 980.1 799.4 C980.39 797.13 981.73 796.62 982 796.7 C982.27 796.78 983.48 798.77 983.8 800.5 C984.12 802.23 985.98 817.39 986.4 820.3 C986.82 823.21 989.04 837.51 989.5 840.2 C989.96 842.89 992.27 855.54 992.7 857 C993.13 858.46 994.8 859.1 995.3 860.1 C995.8 861.1 998.85 869.53 999.5 870.6 C1000.15 871.67 1003.47 873.71 1004.2 874.7 C1004.93 875.69 1008.64 883.06 1009.4 884.1 C1010.16 885.14 1013.76 888.17 1014.6 888.9 C1015.44 889.63 1019.9 893.47 1020.9 894.1 C1021.9 894.73 1027.05 897 1028.2 897.5 C1029.35 898 1035.37 900.51 1036.6 900.9 C1037.83 901.29 1043.93 902.49 1045 902.8 C1046.07 903.11 1050.06 904.79 1051.2 905.1 C1052.34 905.41 1059.21 906.85 1060.6 907 C1061.99 907.15 1068.64 907.1 1070.1 907.2 C1071.56 907.3 1078.59 908.23 1080.5 908.4 C1082.41 908.57 1094.43 909.36 1096.2 909.5 C1097.97 909.64 1103.98 910.24 1104.6 910.3" fill="none" stroke="#1a0d05" stroke-width="0.8" stroke-linejoin="round"/>
<path d="M968.6 1035.6 C968.87 1035.26 971.76 1033.93 972.3 1030.9 C972.84 1027.87 975.45 1000.06 975.9 994.3 C976.35 988.54 978.11 957.77 978.5 952.4 C978.89 947.03 980.83 923.59 981.2 921.1 C981.57 918.61 983.2 918.44 983.5 918.4 C983.8 918.36 984.93 919.49 985.3 920.6 C985.67 921.71 988.04 931.8 988.5 933.6 C988.96 935.4 991.15 943.49 991.6 945.1 C992.05 946.71 994.24 954.07 994.7 955.6 C995.16 957.13 997.44 964.16 997.9 966 C998.36 967.84 1000.54 979.05 1001 980.7 C1001.46 982.35 1003.74 987.19 1004.2 988.5 C1004.66 989.81 1006.65 996.85 1007.3 998.5 C1007.95 1000.15 1012.26 1009.58 1013.1 1011 C1013.94 1012.42 1018.07 1016.92 1018.8 1017.8 C1019.53 1018.68 1022.31 1022.35 1023 1023 C1023.69 1023.65 1027.2 1026.16 1028.2 1026.7 C1029.2 1027.24 1035.22 1029.94 1036.6 1030.4 C1037.98 1030.86 1045.31 1032.69 1047 1033 C1048.69 1033.31 1057.45 1034.41 1059.6 1034.6 C1061.75 1034.79 1075.08 1035.53 1076.3 1035.6" fill="none" stroke="#1a0d05" stroke-width="0.8" stroke-linejoin="round"/>
<path d="M968.6 1161.5 C968.91 1161.11 971.69 1159.81 972.3 1156.8 C972.91 1153.79 975.38 1131.5 975.9 1125.4 C976.42 1119.3 978.06 1089.7 978.5 1083.6 C978.94 1077.5 980.81 1055.34 981.2 1052.2 C981.59 1049.06 982.86 1046.51 983.2 1045.9 C983.54 1045.29 984.86 1044.81 985.3 1044.9 C985.74 1044.99 988.02 1046.48 988.5 1047 C988.98 1047.52 990.71 1049.97 991.1 1051.1 C991.49 1052.23 992.9 1059.02 993.2 1060.6 C993.5 1062.17 994.31 1068.08 994.7 1070 C995.09 1071.92 997.38 1081.42 997.9 1083.6 C998.42 1085.77 1000.48 1094.01 1001 1096.1 C1001.52 1098.19 1003.68 1106.69 1004.2 1108.7 C1004.73 1110.71 1006.78 1118.59 1007.3 1120.2 C1007.82 1121.81 1009.75 1126.61 1010.4 1128 C1011.05 1129.39 1014.31 1135.42 1015.1 1136.9 C1015.89 1138.38 1019.16 1144.67 1019.9 1145.8 C1020.64 1146.93 1023.13 1149.72 1024 1150.5 C1024.87 1151.28 1029.08 1154.61 1030.3 1155.2 C1031.52 1155.79 1037.13 1157.21 1038.7 1157.6 C1040.27 1157.99 1046.92 1159.6 1049.1 1159.9 C1051.27 1160.2 1062.53 1161.07 1064.8 1161.2 C1067.07 1161.33 1075.34 1161.47 1076.3 1161.5" fill="none" stroke="#2a2a2a" stroke-width="0.8" stroke-linejoin="round"/>
<rect x="823.7" y="659.2" width="170.3" height="503" fill="#000" fill-opacity="0.15"/>
<line x1="994" y1="605.4" x2="994" y2="659.9" stroke="#000" stroke-width="1.3" stroke-dasharray="1.9 1.4"/>
<line x1="994" y1="659.9" x2="994" y2="1161.5" stroke="#555" stroke-width="0.9" stroke-dasharray="1.4 1.4" stroke-opacity="0.75"/>
<text x="827.8" y="628.1" font-size="20.85" text-anchor="start">Autofluorescence</text>
<text x="1003" y="628.1" font-size="20.85" text-anchor="start">Fluorescence Above Background</text>
<line x1="985" y1="646.2" x2="877.8" y2="646.2" stroke="#000" stroke-width="1.7"/>
<polygon points="871.8,646.2 883.8,641.6 881.3,646.2 883.8,650.8" fill="#000"/>
<line x1="1005.4" y1="646.2" x2="1194.6" y2="646.2" stroke="#000" stroke-width="1.7"/>
<polygon points="1200.6,646.2 1188.6,641.6 1191.1,646.2 1188.6,650.8" fill="#000"/>
<text x="1224.3" y="699.9" font-size="24.8" text-anchor="middle">No Vector</text>
<text x="1224.3" y="730" font-size="24.8" text-anchor="middle">(0.1% above</text>
<text x="1224.3" y="760.1" font-size="24.8" text-anchor="middle">background)</text>
<text x="1224.3" y="830.6" font-size="24.8" text-anchor="middle">pCFEX1</text>
<text x="1224.3" y="860.7" font-size="24.8" text-anchor="middle">(34% above</text>
<text x="1224.3" y="890.8" font-size="24.8" text-anchor="middle">background)</text>
<text x="1224.3" y="942.7" font-size="24.8" text-anchor="middle">pCFEX2</text>
<text x="1224.3" y="972.8" font-size="24.8" text-anchor="middle">(26% above</text>
<text x="1224.3" y="1002.9" font-size="24.8" text-anchor="middle">background)</text>
<text x="1224.3" y="1071.4" font-size="24.8" text-anchor="middle">pCFEX3</text>
<text x="1224.3" y="1101.5" font-size="24.8" text-anchor="middle">(26% above</text>
<text x="1224.3" y="1131.6" font-size="24.8" text-anchor="middle">background)</text>
<line x1="859.44" y1="1161.5" x2="859.44" y2="1174.8" stroke="#000" stroke-width="3.6"/>
<line x1="954.64" y1="1161.5" x2="954.64" y2="1174.8" stroke="#000" stroke-width="3.6"/>
<line x1="968.24" y1="1161.5" x2="968.24" y2="1174.8" stroke="#000" stroke-width="3.6"/>
<line x1="981.02" y1="1161.5" x2="981.02" y2="1174.8" stroke="#000" stroke-width="3.6"/>
<line x1="1078.94" y1="1161.5" x2="1078.94" y2="1174.8" stroke="#000" stroke-width="3.6"/>
<line x1="1256.56" y1="1161.5" x2="1256.56" y2="1174.8" stroke="#000" stroke-width="3.6"/>
<line x1="967.7" y1="1161.5" x2="967.7" y2="1174.8" stroke="#000" stroke-width="3.6"/>
<line x1="968.78" y1="1161.5" x2="968.78" y2="1174.8" stroke="#000" stroke-width="3.6"/>
<line x1="906.22" y1="1161.5" x2="906.22" y2="1171.3" stroke="#000" stroke-width="2.8"/>
<line x1="1029.44" y1="1161.5" x2="1029.44" y2="1171.3" stroke="#000" stroke-width="2.8"/>
<line x1="1208.14" y1="1161.5" x2="1208.14" y2="1171.3" stroke="#000" stroke-width="2.8"/>
<line x1="961.17" y1="1161.5" x2="961.17" y2="1171.3" stroke="#000" stroke-width="2.8"/>
<line x1="975.04" y1="1161.5" x2="975.04" y2="1171.3" stroke="#000" stroke-width="2.8"/>
<line x1="867.6" y1="1161.5" x2="867.6" y2="1167.5" stroke="#000" stroke-width="2"/>
<line x1="875.76" y1="1161.5" x2="875.76" y2="1167.5" stroke="#000" stroke-width="2"/>
<line x1="884.46" y1="1161.5" x2="884.46" y2="1167.5" stroke="#000" stroke-width="2"/>
<line x1="893.98" y1="1161.5" x2="893.98" y2="1167.5" stroke="#000" stroke-width="2"/>
<line x1="917.92" y1="1161.5" x2="917.92" y2="1167.5" stroke="#000" stroke-width="2"/>
<line x1="930.16" y1="1161.5" x2="930.16" y2="1167.5" stroke="#000" stroke-width="2"/>
<line x1="943.76" y1="1161.5" x2="943.76" y2="1167.5" stroke="#000" stroke-width="2"/>
<line x1="994.08" y1="1161.5" x2="994.08" y2="1167.5" stroke="#000" stroke-width="2"/>
<line x1="1006.32" y1="1161.5" x2="1006.32" y2="1167.5" stroke="#000" stroke-width="2"/>
<line x1="1018.02" y1="1161.5" x2="1018.02" y2="1167.5" stroke="#000" stroke-width="2"/>
<line x1="1040.86" y1="1161.5" x2="1040.86" y2="1167.5" stroke="#000" stroke-width="2"/>
<line x1="1051.2" y1="1161.5" x2="1051.2" y2="1167.5" stroke="#000" stroke-width="2"/>
<line x1="1061.54" y1="1161.5" x2="1061.54" y2="1167.5" stroke="#000" stroke-width="2"/>
<line x1="1070.24" y1="1161.5" x2="1070.24" y2="1167.5" stroke="#000" stroke-width="2"/>
<line x1="1135.52" y1="1161.5" x2="1135.52" y2="1167.5" stroke="#000" stroke-width="2"/>
<line x1="1168.98" y1="1161.5" x2="1168.98" y2="1167.5" stroke="#000" stroke-width="2"/>
<line x1="1189.92" y1="1161.5" x2="1189.92" y2="1167.5" stroke="#000" stroke-width="2"/>
<line x1="1219.84" y1="1161.5" x2="1219.84" y2="1167.5" stroke="#000" stroke-width="2"/>
<line x1="1232.08" y1="1161.5" x2="1232.08" y2="1167.5" stroke="#000" stroke-width="2"/>
<line x1="1241.6" y1="1161.5" x2="1241.6" y2="1167.5" stroke="#000" stroke-width="2"/>
<line x1="1249.22" y1="1161.5" x2="1249.22" y2="1167.5" stroke="#000" stroke-width="2"/>
<line x1="1304.16" y1="1161.5" x2="1304.16" y2="1167.5" stroke="#000" stroke-width="2"/>
<rect x="953.28" y="1161.5" width="29.1" height="6" fill="#000"/>
<text x="858.5" y="1211.8" font-size="24.8" text-anchor="middle">-10<tspan font-size="16.8" dy="-11.6">3</tspan></text>
<text x="967.4" y="1211.8" font-size="24.8" text-anchor="middle">0</text>
<text x="1080.2" y="1211.8" font-size="24.8" text-anchor="middle">10<tspan font-size="16.8" dy="-11.6">3</tspan></text>
<text x="1258.3" y="1211.8" font-size="24.8" text-anchor="middle">10<tspan font-size="16.8" dy="-11.6">4</tspan></text>
<text x="1074.6" y="1251" font-size="24.8" text-anchor="middle">Fluorescence intensity (530 nm)</text>
<text x="808.2" y="910.7" font-size="24.8" text-anchor="middle" transform="rotate(-90 808.2 910.7)">% of max</text>
</g>
<g id="panel-d-right">
<rect x="1450.6" y="659.9" width="501.1" height="501.6" fill="#fff"/>
<path d="M1593.9 910.3 C1594.22 909.53 1597.76 903.04 1598.3 899.8 C1598.84 896.56 1600.83 871.26 1601.2 866.1 C1601.57 860.94 1603.11 834.33 1603.4 829.5 C1603.69 824.67 1604.93 802.67 1605.2 800.2 C1605.47 797.73 1606.82 795.8 1607.1 795.8 C1607.38 795.8 1608.68 797.73 1609 800.2 C1609.32 802.67 1611.1 825.2 1611.5 829.5 C1611.9 833.8 1613.97 855.15 1614.4 858.8 C1614.83 862.45 1616.87 877.16 1617.3 879.3 C1617.73 881.44 1619.98 887.16 1620.3 888 C1620.62 888.84 1621.11 890.16 1621.7 890.7 C1622.29 891.24 1627.06 894.79 1628.3 895.4 C1629.54 896.01 1636.99 898.52 1638.6 899 C1640.21 899.48 1648.16 901.68 1650.3 902 C1652.44 902.32 1664.9 903.22 1667.8 903.4 C1670.7 903.58 1686.04 904.27 1689.8 904.4 C1693.56 904.53 1715.35 905.11 1719.1 905.2 C1722.85 905.29 1737.78 905.48 1741 905.6 C1744.22 905.72 1759.77 906.59 1763 906.8 C1766.23 907.01 1781.78 908.29 1785 908.5 C1788.22 908.71 1804.22 909.57 1806.9 909.7 C1809.58 909.83 1820.52 910.26 1821.6 910.3 Z" fill="#006d2c" stroke="none" stroke-width="0"/>
<path d="M1593.9 1035.6 C1594.22 1034.79 1597.76 1027.88 1598.3 1024.6 C1598.84 1021.32 1600.83 996.06 1601.2 990.9 C1601.57 985.74 1603.08 959.02 1603.4 954.3 C1603.72 949.58 1605.33 928.73 1605.6 926.5 C1605.87 924.27 1606.85 923.79 1607.1 923.9 C1607.35 924.01 1608.68 925.77 1609 928 C1609.32 930.23 1611.1 950.22 1611.5 954.3 C1611.9 958.38 1613.97 980.05 1614.4 983.6 C1614.83 987.15 1616.87 1000.66 1617.3 1002.7 C1617.73 1004.74 1619.92 1010.54 1620.3 1011.4 C1620.68 1012.26 1621.8 1013.86 1622.5 1014.4 C1623.2 1014.94 1628.62 1018.24 1629.8 1018.8 C1630.98 1019.36 1636.88 1021.46 1638.6 1022 C1640.32 1022.54 1651.06 1025.73 1653.2 1026.1 C1655.34 1026.47 1665.12 1026.98 1667.8 1027.1 C1670.48 1027.22 1687.12 1027.79 1689.8 1027.8 C1692.48 1027.81 1702.25 1027.32 1704.4 1027.3 C1706.55 1027.28 1716.95 1027.51 1719.1 1027.5 C1721.25 1027.49 1731.55 1027.11 1733.7 1027.1 C1735.85 1027.09 1745.72 1027.31 1748.4 1027.4 C1751.08 1027.49 1767.62 1028.09 1770.3 1028.3 C1772.98 1028.51 1782.85 1029.94 1785 1030.2 C1787.15 1030.46 1797.46 1031.64 1799.6 1031.9 C1801.74 1032.16 1812.05 1033.48 1814.2 1033.7 C1816.35 1033.92 1826.75 1034.76 1828.9 1034.9 C1831.05 1035.04 1842.43 1035.55 1843.5 1035.6 Z" fill="#31a354" stroke="none" stroke-width="0"/>
<path d="M1593.2 1161.5 C1593.52 1160.77 1597.06 1154.7 1597.6 1151.5 C1598.14 1148.3 1600.1 1123.16 1600.5 1117.9 C1600.9 1112.64 1602.66 1084.52 1603 1079.8 C1603.34 1075.08 1604.94 1055.75 1605.2 1053.5 C1605.46 1051.25 1606.36 1049 1606.6 1049.1 C1606.84 1049.2 1608.18 1052.65 1608.5 1054.9 C1608.82 1057.15 1610.6 1076.04 1611 1079.8 C1611.4 1083.56 1613.54 1103.08 1614 1106.2 C1614.46 1109.32 1616.84 1120.58 1617.3 1122.3 C1617.76 1124.02 1619.92 1128.9 1620.3 1129.6 C1620.68 1130.3 1621.8 1131.43 1622.5 1131.8 C1623.2 1132.17 1628.62 1134.22 1629.8 1134.7 C1630.98 1135.18 1637.21 1137.94 1638.6 1138.4 C1639.99 1138.86 1647.41 1140.55 1648.8 1141 C1650.19 1141.45 1656.31 1144.21 1657.6 1144.5 C1658.89 1144.79 1665.22 1145.1 1666.4 1145 C1667.58 1144.9 1672.52 1143.26 1673.7 1143.1 C1674.88 1142.94 1681.32 1142.7 1682.5 1142.8 C1683.68 1142.9 1688.41 1144.61 1689.8 1144.5 C1691.19 1144.39 1699.89 1141.62 1701.5 1141.3 C1703.11 1140.98 1710.41 1140.31 1711.8 1140.1 C1713.19 1139.89 1719.43 1138.66 1720.5 1138.4 C1721.57 1138.14 1725.32 1136.9 1726.4 1136.6 C1727.48 1136.3 1733.48 1134.49 1735.2 1134.3 C1736.92 1134.11 1748.33 1134.16 1749.8 1134 C1751.27 1133.84 1754.44 1132.03 1755.2 1132.1 C1755.96 1132.17 1758.67 1134.7 1760.1 1135 C1761.53 1135.3 1773.09 1135.87 1774.7 1136.2 C1776.31 1136.53 1781.03 1139.13 1782 1139.5 C1782.97 1139.87 1786.72 1140.79 1787.9 1141.3 C1789.08 1141.81 1796.6 1145.65 1798.1 1146.4 C1799.6 1147.15 1806.79 1150.85 1808.4 1151.5 C1810.01 1152.15 1818.38 1154.64 1820.1 1155.2 C1821.82 1155.76 1830.08 1158.77 1831.8 1159.2 C1833.52 1159.63 1842 1160.93 1843.5 1161.1 C1845 1161.27 1851.65 1161.47 1852.3 1161.5 Z" fill="#bae4b3" stroke="none" stroke-width="0"/>
<line x1="1450.6" y1="783.8" x2="1951.7" y2="783.8" stroke="#707070" stroke-width="1.1"/>
<line x1="1450.6" y1="910.3" x2="1951.7" y2="910.3" stroke="#707070" stroke-width="1.1"/>
<line x1="1450.6" y1="1035.6" x2="1951.7" y2="1035.6" stroke="#707070" stroke-width="1.1"/>
<rect x="1450.6" y="659.9" width="501.1" height="501.6" fill="none" stroke="#707070" stroke-width="1.4"/>
<path d="M1450.6 659.9 V1161.7 H1951.7" fill="none" stroke="#646464" stroke-width="2"/>
<path d="M1449.6 783.8 L1594.5 783.8 L1595 783.8 C1595.18 783.56 1595.72 783.31 1596.1 782.34 C1596.48 781.37 1596.85 780.76 1597.3 777.97 C1597.75 775.17 1598.3 770.68 1598.8 765.57 C1599.3 760.47 1599.75 754.34 1600.3 747.35 C1600.85 740.36 1601.62 730.54 1602.1 723.66 C1602.58 716.77 1602.83 711.61 1603.2 706.04 C1603.57 700.47 1603.91 695.65 1604.3 690.24 C1604.69 684.84 1605.18 677.55 1605.55 673.6 C1605.92 669.65 1606.21 668.44 1606.5 666.55 C1606.79 664.67 1607.03 662.3 1607.3 662.3 C1607.57 662.3 1607.82 664.67 1608.1 666.55 C1608.38 668.44 1608.67 669.65 1609 673.6 C1609.33 677.55 1609.68 684.84 1610.1 690.24 C1610.52 695.65 1611.02 700.47 1611.5 706.04 C1611.98 711.61 1612.42 717.18 1613 723.66 C1613.58 730.14 1614.2 737.93 1615 744.92 C1615.8 751.91 1617.02 760.07 1617.8 765.57 C1618.58 771.08 1619.12 775.48 1619.7 777.97 C1620.28 780.46 1620.33 779.67 1621.3 780.52 C1622.27 781.37 1624.1 782.52 1625.5 783.07 C1626.9 783.62 1629 783.68 1629.7 783.8 L1951.7 783.8" fill="none" stroke="#111" stroke-width="1.8" stroke-linejoin="round"/>
<path d="M1593.9 910.3 C1594.22 909.53 1597.76 903.04 1598.3 899.8 C1598.84 896.56 1600.83 871.26 1601.2 866.1 C1601.57 860.94 1603.11 834.33 1603.4 829.5 C1603.69 824.67 1604.93 802.67 1605.2 800.2 C1605.47 797.73 1606.82 795.8 1607.1 795.8 C1607.38 795.8 1608.68 797.73 1609 800.2 C1609.32 802.67 1611.1 825.2 1611.5 829.5 C1611.9 833.8 1613.97 855.15 1614.4 858.8 C1614.83 862.45 1616.87 877.16 1617.3 879.3 C1617.73 881.44 1619.98 887.16 1620.3 888 C1620.62 888.84 1621.11 890.16 1621.7 890.7 C1622.29 891.24 1627.06 894.79 1628.3 895.4 C1629.54 896.01 1636.99 898.52 1638.6 899 C1640.21 899.48 1648.16 901.68 1650.3 902 C1652.44 902.32 1664.9 903.22 1667.8 903.4 C1670.7 903.58 1686.04 904.27 1689.8 904.4 C1693.56 904.53 1715.35 905.11 1719.1 905.2 C1722.85 905.29 1737.78 905.48 1741 905.6 C1744.22 905.72 1759.77 906.59 1763 906.8 C1766.23 907.01 1781.78 908.29 1785 908.5 C1788.22 908.71 1804.22 909.57 1806.9 909.7 C1809.58 909.83 1820.52 910.26 1821.6 910.3" fill="none" stroke="#0a2a14" stroke-width="0.8" stroke-linejoin="round"/>
<path d="M1593.9 1035.6 C1594.22 1034.79 1597.76 1027.88 1598.3 1024.6 C1598.84 1021.32 1600.83 996.06 1601.2 990.9 C1601.57 985.74 1603.08 959.02 1603.4 954.3 C1603.72 949.58 1605.33 928.73 1605.6 926.5 C1605.87 924.27 1606.85 923.79 1607.1 923.9 C1607.35 924.01 1608.68 925.77 1609 928 C1609.32 930.23 1611.1 950.22 1611.5 954.3 C1611.9 958.38 1613.97 980.05 1614.4 983.6 C1614.83 987.15 1616.87 1000.66 1617.3 1002.7 C1617.73 1004.74 1619.92 1010.54 1620.3 1011.4 C1620.68 1012.26 1621.8 1013.86 1622.5 1014.4 C1623.2 1014.94 1628.62 1018.24 1629.8 1018.8 C1630.98 1019.36 1636.88 1021.46 1638.6 1022 C1640.32 1022.54 1651.06 1025.73 1653.2 1026.1 C1655.34 1026.47 1665.12 1026.98 1667.8 1027.1 C1670.48 1027.22 1687.12 1027.79 1689.8 1027.8 C1692.48 1027.81 1702.25 1027.32 1704.4 1027.3 C1706.55 1027.28 1716.95 1027.51 1719.1 1027.5 C1721.25 1027.49 1731.55 1027.11 1733.7 1027.1 C1735.85 1027.09 1745.72 1027.31 1748.4 1027.4 C1751.08 1027.49 1767.62 1028.09 1770.3 1028.3 C1772.98 1028.51 1782.85 1029.94 1785 1030.2 C1787.15 1030.46 1797.46 1031.64 1799.6 1031.9 C1801.74 1032.16 1812.05 1033.48 1814.2 1033.7 C1816.35 1033.92 1826.75 1034.76 1828.9 1034.9 C1831.05 1035.04 1842.43 1035.55 1843.5 1035.6" fill="none" stroke="#1f4a2c" stroke-width="0.8" stroke-linejoin="round"/>
<path d="M1593.2 1161.5 C1593.52 1160.77 1597.06 1154.7 1597.6 1151.5 C1598.14 1148.3 1600.1 1123.16 1600.5 1117.9 C1600.9 1112.64 1602.66 1084.52 1603 1079.8 C1603.34 1075.08 1604.94 1055.75 1605.2 1053.5 C1605.46 1051.25 1606.36 1049 1606.6 1049.1 C1606.84 1049.2 1608.18 1052.65 1608.5 1054.9 C1608.82 1057.15 1610.6 1076.04 1611 1079.8 C1611.4 1083.56 1613.54 1103.08 1614 1106.2 C1614.46 1109.32 1616.84 1120.58 1617.3 1122.3 C1617.76 1124.02 1619.92 1128.9 1620.3 1129.6 C1620.68 1130.3 1621.8 1131.43 1622.5 1131.8 C1623.2 1132.17 1628.62 1134.22 1629.8 1134.7 C1630.98 1135.18 1637.21 1137.94 1638.6 1138.4 C1639.99 1138.86 1647.41 1140.55 1648.8 1141 C1650.19 1141.45 1656.31 1144.21 1657.6 1144.5 C1658.89 1144.79 1665.22 1145.1 1666.4 1145 C1667.58 1144.9 1672.52 1143.26 1673.7 1143.1 C1674.88 1142.94 1681.32 1142.7 1682.5 1142.8 C1683.68 1142.9 1688.41 1144.61 1689.8 1144.5 C1691.19 1144.39 1699.89 1141.62 1701.5 1141.3 C1703.11 1140.98 1710.41 1140.31 1711.8 1140.1 C1713.19 1139.89 1719.43 1138.66 1720.5 1138.4 C1721.57 1138.14 1725.32 1136.9 1726.4 1136.6 C1727.48 1136.3 1733.48 1134.49 1735.2 1134.3 C1736.92 1134.11 1748.33 1134.16 1749.8 1134 C1751.27 1133.84 1754.44 1132.03 1755.2 1132.1 C1755.96 1132.17 1758.67 1134.7 1760.1 1135 C1761.53 1135.3 1773.09 1135.87 1774.7 1136.2 C1776.31 1136.53 1781.03 1139.13 1782 1139.5 C1782.97 1139.87 1786.72 1140.79 1787.9 1141.3 C1789.08 1141.81 1796.6 1145.65 1798.1 1146.4 C1799.6 1147.15 1806.79 1150.85 1808.4 1151.5 C1810.01 1152.15 1818.38 1154.64 1820.1 1155.2 C1821.82 1155.76 1830.08 1158.77 1831.8 1159.2 C1833.52 1159.63 1842 1160.93 1843.5 1161.1 C1845 1161.27 1851.65 1161.47 1852.3 1161.5" fill="none" stroke="#4a5a4a" stroke-width="0.9" stroke-linejoin="round"/>
<rect x="1449.9" y="659.2" width="171" height="503" fill="#000" fill-opacity="0.15"/>
<line x1="1620.9" y1="605.4" x2="1620.9" y2="659.9" stroke="#000" stroke-width="1.3" stroke-dasharray="1.9 1.4"/>
<line x1="1620.9" y1="659.9" x2="1620.9" y2="1161.5" stroke="#555" stroke-width="0.9" stroke-dasharray="1.4 1.4" stroke-opacity="0.75"/>
<text x="1454" y="628.1" font-size="20.85" text-anchor="start">Autofluorescence</text>
<text x="1629.8" y="628.1" font-size="20.85" text-anchor="start">Fluorescence Above Background</text>
<line x1="1611.1" y1="646.6" x2="1503.6" y2="646.6" stroke="#000" stroke-width="1.7"/>
<polygon points="1497.6,646.6 1509.6,642 1507.1,646.6 1509.6,651.2" fill="#000"/>
<line x1="1631.6" y1="646.6" x2="1820.8" y2="646.6" stroke="#000" stroke-width="1.7"/>
<polygon points="1826.8,646.6 1814.8,642 1817.3,646.6 1814.8,651.2" fill="#000"/>
<text x="1854.4" y="699.9" font-size="24.8" text-anchor="middle">No Vector</text>
<text x="1854.4" y="730" font-size="24.8" text-anchor="middle">(0.1% above</text>
<text x="1854.4" y="760.1" font-size="24.8" text-anchor="middle">background)</text>
<text x="1854.4" y="830.6" font-size="24.8" text-anchor="middle">pEFEX1</text>
<text x="1854.4" y="860.7" font-size="24.8" text-anchor="middle">(41% above</text>
<text x="1854.4" y="890.8" font-size="24.8" text-anchor="middle">background)</text>
<text x="1854.4" y="942.7" font-size="24.8" text-anchor="middle">pEFEX2</text>
<text x="1854.4" y="972.8" font-size="24.8" text-anchor="middle">(49% above</text>
<text x="1854.4" y="1002.9" font-size="24.8" text-anchor="middle">background)</text>
<text x="1854.4" y="1071.4" font-size="24.8" text-anchor="middle">pEFEX3</text>
<text x="1854.4" y="1101.5" font-size="24.8" text-anchor="middle">(70% above</text>
<text x="1854.4" y="1131.6" font-size="24.8" text-anchor="middle">background)</text>
<line x1="1485.64" y1="1161.5" x2="1485.64" y2="1174.8" stroke="#000" stroke-width="3.6"/>
<line x1="1580.84" y1="1161.5" x2="1580.84" y2="1174.8" stroke="#000" stroke-width="3.6"/>
<line x1="1594.44" y1="1161.5" x2="1594.44" y2="1174.8" stroke="#000" stroke-width="3.6"/>
<line x1="1607.22" y1="1161.5" x2="1607.22" y2="1174.8" stroke="#000" stroke-width="3.6"/>
<line x1="1705.14" y1="1161.5" x2="1705.14" y2="1174.8" stroke="#000" stroke-width="3.6"/>
<line x1="1882.76" y1="1161.5" x2="1882.76" y2="1174.8" stroke="#000" stroke-width="3.6"/>
<line x1="1593.9" y1="1161.5" x2="1593.9" y2="1174.8" stroke="#000" stroke-width="3.6"/>
<line x1="1594.98" y1="1161.5" x2="1594.98" y2="1174.8" stroke="#000" stroke-width="3.6"/>
<line x1="1532.42" y1="1161.5" x2="1532.42" y2="1171.3" stroke="#000" stroke-width="2.8"/>
<line x1="1655.64" y1="1161.5" x2="1655.64" y2="1171.3" stroke="#000" stroke-width="2.8"/>
<line x1="1834.34" y1="1161.5" x2="1834.34" y2="1171.3" stroke="#000" stroke-width="2.8"/>
<line x1="1587.37" y1="1161.5" x2="1587.37" y2="1171.3" stroke="#000" stroke-width="2.8"/>
<line x1="1601.24" y1="1161.5" x2="1601.24" y2="1171.3" stroke="#000" stroke-width="2.8"/>
<line x1="1493.8" y1="1161.5" x2="1493.8" y2="1167.5" stroke="#000" stroke-width="2"/>
<line x1="1501.96" y1="1161.5" x2="1501.96" y2="1167.5" stroke="#000" stroke-width="2"/>
<line x1="1510.66" y1="1161.5" x2="1510.66" y2="1167.5" stroke="#000" stroke-width="2"/>
<line x1="1520.18" y1="1161.5" x2="1520.18" y2="1167.5" stroke="#000" stroke-width="2"/>
<line x1="1544.12" y1="1161.5" x2="1544.12" y2="1167.5" stroke="#000" stroke-width="2"/>
<line x1="1556.36" y1="1161.5" x2="1556.36" y2="1167.5" stroke="#000" stroke-width="2"/>
<line x1="1569.96" y1="1161.5" x2="1569.96" y2="1167.5" stroke="#000" stroke-width="2"/>
<line x1="1620.28" y1="1161.5" x2="1620.28" y2="1167.5" stroke="#000" stroke-width="2"/>
<line x1="1632.52" y1="1161.5" x2="1632.52" y2="1167.5" stroke="#000" stroke-width="2"/>
<line x1="1644.22" y1="1161.5" x2="1644.22" y2="1167.5" stroke="#000" stroke-width="2"/>
<line x1="1667.06" y1="1161.5" x2="1667.06" y2="1167.5" stroke="#000" stroke-width="2"/>
<line x1="1677.4" y1="1161.5" x2="1677.4" y2="1167.5" stroke="#000" stroke-width="2"/>
<line x1="1687.74" y1="1161.5" x2="1687.74" y2="1167.5" stroke="#000" stroke-width="2"/>
<line x1="1696.44" y1="1161.5" x2="1696.44" y2="1167.5" stroke="#000" stroke-width="2"/>
<line x1="1761.72" y1="1161.5" x2="1761.72" y2="1167.5" stroke="#000" stroke-width="2"/>
<line x1="1795.18" y1="1161.5" x2="1795.18" y2="1167.5" stroke="#000" stroke-width="2"/>
<line x1="1816.12" y1="1161.5" x2="1816.12" y2="1167.5" stroke="#000" stroke-width="2"/>
<line x1="1846.04" y1="1161.5" x2="1846.04" y2="1167.5" stroke="#000" stroke-width="2"/>
<line x1="1858.28" y1="1161.5" x2="1858.28" y2="1167.5" stroke="#000" stroke-width="2"/>
<line x1="1867.8" y1="1161.5" x2="1867.8" y2="1167.5" stroke="#000" stroke-width="2"/>
<line x1="1875.42" y1="1161.5" x2="1875.42" y2="1167.5" stroke="#000" stroke-width="2"/>
<line x1="1930.36" y1="1161.5" x2="1930.36" y2="1167.5" stroke="#000" stroke-width="2"/>
<rect x="1579.48" y="1161.5" width="29.1" height="6" fill="#000"/>
<text x="1484.6" y="1211.8" font-size="24.8" text-anchor="middle">-10<tspan font-size="16.8" dy="-11.6">3</tspan></text>
<text x="1593.6" y="1211.8" font-size="24.8" text-anchor="middle">0</text>
<text x="1706.4" y="1211.8" font-size="24.8" text-anchor="middle">10<tspan font-size="16.8" dy="-11.6">3</tspan></text>
<text x="1884.5" y="1211.8" font-size="24.8" text-anchor="middle">10<tspan font-size="16.8" dy="-11.6">4</tspan></text>
<text x="1701" y="1251" font-size="24.8" text-anchor="middle">Fluorescence intensity (530 nm)</text>
<text x="1434.4" y="910.7" font-size="24.8" text-anchor="middle" transform="rotate(-90 1434.4 910.7)">% of max</text>
</g>
<g id="panel-e">
<text x="-1.3" y="1318.2" font-size="42" text-anchor="start" class="b">e</text>
<defs><linearGradient id="gO" x1="0" y1="0" x2="1" y2="0"><stop offset="0" stop-color="#a63603"/><stop offset="1" stop-color="#fdbe85"/></linearGradient><linearGradient id="gG" x1="0" y1="0" x2="1" y2="0"><stop offset="0" stop-color="#006d2c"/><stop offset="1" stop-color="#bae4b3"/></linearGradient></defs>
<rect x="171.3" y="1650.8" width="62.1" height="177.2" fill="#a63603" stroke="#222" stroke-width="1.3"/>
<rect x="327.2" y="1709.4" width="62.4" height="118.6" fill="#e6550d" stroke="#222" stroke-width="1.3"/>
<rect x="483.3" y="1714.4" width="62.1" height="113.6" fill="#fdbe85" stroke="#222" stroke-width="1.3"/>
<rect x="637.2" y="1592.5" width="62.4" height="235.5" fill="#006d2c" stroke="#222" stroke-width="1.3"/>
<rect x="792.8" y="1549.8" width="62.7" height="278.2" fill="#31a354" stroke="#222" stroke-width="1.3"/>
<rect x="948.6" y="1434.7" width="62.7" height="393.3" fill="#bae4b3" stroke="#222" stroke-width="1.3"/>
<path d="M205 1603.3 V1701.2 M198.8 1603.3 H211.2 M198.8 1701.2 H211.2" fill="none" stroke="#000" stroke-width="1.8"/>
<path d="M360.3 1707.3 V1716.7 M354.5 1707.3 H366.1 M354.5 1716.7 H366.1" fill="none" stroke="#000" stroke-width="1.8"/>
<path d="M514.9 1712 V1720.2 M509.1 1712 H520.7 M509.1 1720.2 H520.7" fill="none" stroke="#000" stroke-width="1.8"/>
<path d="M669.8 1584.5 V1601.3 M664 1584.5 H675.6 M664 1601.3 H675.6" fill="none" stroke="#000" stroke-width="1.8"/>
<path d="M824.7 1521.9 V1579.6 M817.8 1521.9 H831.6 M817.8 1579.6 H831.6" fill="none" stroke="#000" stroke-width="1.8"/>
<path d="M980.8 1387.2 V1482.1 M974 1387.2 H987.6 M974 1482.1 H987.6" fill="none" stroke="#000" stroke-width="1.8"/>
<circle cx="205" cy="1596" r="8.3" fill="#cccccc" stroke="#111" stroke-width="1.2"/>
<circle cx="220.3" cy="1669" r="8.3" fill="#cccccc" stroke="#111" stroke-width="1.2"/>
<circle cx="184.5" cy="1686.5" r="8.3" fill="#cccccc" stroke="#111" stroke-width="1.2"/>
<circle cx="334.8" cy="1710.8" r="8.3" fill="#cccccc" stroke="#111" stroke-width="1.2"/>
<circle cx="348.6" cy="1707.3" r="8.3" fill="#cccccc" stroke="#111" stroke-width="1.2"/>
<circle cx="371.1" cy="1707.3" r="8.3" fill="#cccccc" stroke="#111" stroke-width="1.2"/>
<circle cx="381.6" cy="1716.7" r="8.3" fill="#cccccc" stroke="#111" stroke-width="1.2"/>
<circle cx="490.6" cy="1714.4" r="8.3" fill="#cccccc" stroke="#111" stroke-width="1.2"/>
<circle cx="503.8" cy="1710.8" r="8.3" fill="#cccccc" stroke="#111" stroke-width="1.2"/>
<circle cx="526.3" cy="1713.2" r="8.3" fill="#cccccc" stroke="#111" stroke-width="1.2"/>
<circle cx="537.5" cy="1719.6" r="8.3" fill="#cccccc" stroke="#111" stroke-width="1.2"/>
<circle cx="651.3" cy="1602.8" r="8.3" fill="#cccccc" stroke="#111" stroke-width="1.2"/>
<circle cx="669.8" cy="1587" r="8.3" fill="#cccccc" stroke="#111" stroke-width="1.2"/>
<circle cx="685.6" cy="1590.5" r="8.3" fill="#cccccc" stroke="#111" stroke-width="1.2"/>
<circle cx="801.6" cy="1537.5" r="8.3" fill="#cccccc" stroke="#111" stroke-width="1.2"/>
<circle cx="814.7" cy="1530.1" r="8.3" fill="#cccccc" stroke="#111" stroke-width="1.2"/>
<circle cx="833.8" cy="1540.7" r="8.3" fill="#cccccc" stroke="#111" stroke-width="1.2"/>
<circle cx="847.3" cy="1592.2" r="8.3" fill="#cccccc" stroke="#111" stroke-width="1.2"/>
<circle cx="973.8" cy="1365.8" r="8.3" fill="#cccccc" stroke="#111" stroke-width="1.2"/>
<circle cx="989.9" cy="1440.2" r="8.3" fill="#cccccc" stroke="#111" stroke-width="1.2"/>
<circle cx="957.4" cy="1452.2" r="8.3" fill="#cccccc" stroke="#111" stroke-width="1.2"/>
<circle cx="1002.2" cy="1479.2" r="8.3" fill="#cccccc" stroke="#111" stroke-width="1.2"/>
<line x1="125.3" y1="1318.77" x2="125.3" y2="1838.5" stroke="#000" stroke-width="2"/>
<line x1="115.9" y1="1828" x2="1058" y2="1828" stroke="#000" stroke-width="2"/>
<text x="103.3" y="1837.6" font-size="28.9" text-anchor="end">0</text>
<line x1="115.9" y1="1771.53" x2="125.3" y2="1771.53" stroke="#000" stroke-width="2"/>
<text x="103.3" y="1781.13" font-size="28.9" text-anchor="end">1</text>
<line x1="115.9" y1="1715.06" x2="125.3" y2="1715.06" stroke="#000" stroke-width="2"/>
<text x="103.3" y="1724.66" font-size="28.9" text-anchor="end">2</text>
<line x1="115.9" y1="1658.59" x2="125.3" y2="1658.59" stroke="#000" stroke-width="2"/>
<text x="103.3" y="1668.19" font-size="28.9" text-anchor="end">3</text>
<line x1="115.9" y1="1602.12" x2="125.3" y2="1602.12" stroke="#000" stroke-width="2"/>
<text x="103.3" y="1611.72" font-size="28.9" text-anchor="end">4</text>
<line x1="115.9" y1="1545.65" x2="125.3" y2="1545.65" stroke="#000" stroke-width="2"/>
<text x="103.3" y="1555.25" font-size="28.9" text-anchor="end">5</text>
<line x1="115.9" y1="1489.18" x2="125.3" y2="1489.18" stroke="#000" stroke-width="2"/>
<text x="103.3" y="1498.78" font-size="28.9" text-anchor="end">6</text>
<line x1="115.9" y1="1432.71" x2="125.3" y2="1432.71" stroke="#000" stroke-width="2"/>
<text x="103.3" y="1442.31" font-size="28.9" text-anchor="end">7</text>
<line x1="115.9" y1="1376.24" x2="125.3" y2="1376.24" stroke="#000" stroke-width="2"/>
<text x="103.3" y="1385.84" font-size="28.9" text-anchor="end">8</text>
<line x1="115.9" y1="1319.77" x2="125.3" y2="1319.77" stroke="#000" stroke-width="2"/>
<text x="103.3" y="1329.37" font-size="28.9" text-anchor="end">9</text>
<line x1="280.9" y1="1828" x2="280.9" y2="1838.5" stroke="#000" stroke-width="2"/>
<line x1="436.2" y1="1828" x2="436.2" y2="1838.5" stroke="#000" stroke-width="2"/>
<line x1="591.4" y1="1828" x2="591.4" y2="1838.5" stroke="#000" stroke-width="2"/>
<line x1="746.8" y1="1828" x2="746.8" y2="1838.5" stroke="#000" stroke-width="2"/>
<line x1="901.6" y1="1828" x2="901.6" y2="1838.5" stroke="#000" stroke-width="2"/>
<line x1="1057" y1="1828" x2="1057" y2="1838.5" stroke="#000" stroke-width="2"/>
<text x="202.25" y="1876.4" font-size="29.3" text-anchor="middle">pCFEX1</text>
<text x="357.55" y="1876.4" font-size="29.3" text-anchor="middle">pCFEX2</text>
<text x="512.8" y="1876.4" font-size="29.3" text-anchor="middle">pCFEX3</text>
<text x="668.1" y="1876.4" font-size="29.3" text-anchor="middle">pEFEX1</text>
<text x="823.2" y="1876.4" font-size="29.3" text-anchor="middle">pEFEX2</text>
<text x="978.3" y="1876.4" font-size="29.3" text-anchor="middle">pEFEX3</text>
<text x="58.6" y="1574.5" font-size="29.1" text-anchor="middle" transform="rotate(-90 58.6 1574.5)">MFI over background</text>
<line x1="243.7" y1="1352.5" x2="537.83" y2="1497.83" stroke="#000" stroke-width="2.2"/>
<polygon points="558,1507.8 530.26,1504.13 537.11,1497.48 538.23,1487.99" fill="#000"/>
<line x1="621.4" y1="1508.3" x2="915.84" y2="1362.39" stroke="#000" stroke-width="2.2"/>
<polygon points="936,1352.4 916.25,1372.23 915.12,1362.75 908.26,1356.1" fill="#000"/>
<text x="493" y="1423.5" font-size="28.1" text-anchor="start">A<tspan font-size="18" dy="7.5">2</tspan><tspan dy="-7.5">aR-GFP yield</tspan></text>
<polygon points="157.6,1925.2 157.6,1973.6 558,1973.6" fill="url(#gO)" stroke="#000" stroke-width="2.7" stroke-linejoin="miter"/>
<polygon points="624.4,1925.2 624.4,1973.6 1026.2,1973.6" fill="url(#gG)" stroke="#000" stroke-width="2.7" stroke-linejoin="miter"/>
<text x="180.6" y="2009.6" font-size="29.1" text-anchor="start"><tspan class="it">FEX1</tspan> promoter strength</text>
<text x="649.4" y="2009.6" font-size="29.1" text-anchor="start"><tspan class="it">FEX1</tspan> promoter strength</text>
</g>
</svg>
</body></html>
